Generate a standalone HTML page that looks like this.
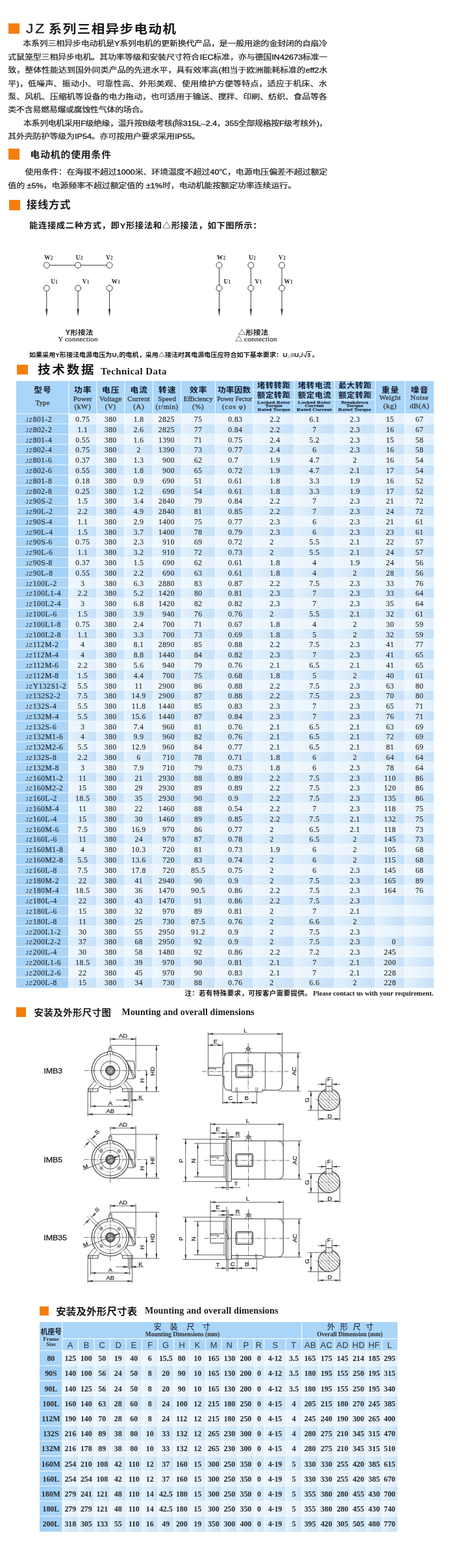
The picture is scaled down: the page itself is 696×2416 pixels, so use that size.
<!DOCTYPE html><html lang="zh"><head><meta charset="utf-8"><title>JZ系列三相异步电动机</title><style>
html,body{margin:0;padding:0;background:#fff}
#p{will-change:transform;position:relative;width:696px;height:2416px;overflow:hidden;background:#fff;font-family:"Liberation Serif",serif;color:#222}
.b{position:absolute}
.t{position:absolute;white-space:nowrap;line-height:1}
.sans{font-family:"Liberation Sans",sans-serif}
.serif{font-family:"Liberation Serif",serif}
#ov{position:absolute;left:0;top:0}

.r{position:absolute;left:0;white-space:nowrap;height:16px;line-height:16px;font-size:11.5px;color:#262626;letter-spacing:.5px;font-family:"Liberation Serif",serif}
.r i{position:absolute;top:0;font-style:normal;text-align:center;-webkit-text-stroke:.15px #262626}
.r .jz{font-weight:normal;-webkit-text-stroke:0;font-family:"Liberation Sans",sans-serif;font-size:8.6px;letter-spacing:.9px;color:#333}
.r i.l{text-align:left;transform-origin:0 50%}
.r i.rt{text-align:right;transform-origin:100% 50%}
.h{font-family:"Liberation Serif",serif;color:#333;text-align:center;-webkit-text-stroke:.25px #2e2e2e}
.c0{left:39.3px;width:80px;letter-spacing:.55px}.c1{left:105.8px;width:43.1px}.c2{left:148.9px;width:42.9px}.c3{left:191.8px;width:43.7px}.c4{left:235.5px;width:33.4px}.c5{left:278.9px;width:52.6px}.c6{left:351.3px;width:50px}.c7{left:415.6px;width:50px}.c8{left:453.2px;width:62.2px}.c9{left:515.4px;width:62.4px}.c10{left:577.8px;width:45.7px}.c11{left:623.5px;width:45px}
.q{position:absolute;left:0;white-space:nowrap;height:23px;line-height:23px;font-size:12px;font-weight:bold;color:#2a2a2a;letter-spacing:-.1px;font-family:"Liberation Serif",serif}
.q i{position:absolute;top:0;font-style:normal;text-align:center}
.q.hd{font-family:"Liberation Sans",sans-serif;font-weight:normal;-webkit-text-stroke:0;font-size:12.2px;color:#333;letter-spacing:.2px;height:18px;line-height:18px}
.q.hd i{transform:scaleX(1.06)}
.d0{left:60.7px;width:35.3px}.d1{left:96px;width:24.5px}.d2{left:120.5px;width:24.5px}.d3{left:145px;width:24.5px}.d4{left:169.5px;width:24.5px}.d5{left:194px;width:24.5px}.d6{left:218.5px;width:24.5px}.d7{left:243px;width:24.5px}.d8{left:267.5px;width:24.5px}.d9{left:292px;width:24.5px}.d10{left:316.5px;width:24.5px}.d11{left:341px;width:24.5px}.d12{left:365.5px;width:25.8px}.d13{left:391.3px;width:15.3px}.d14{left:406.6px;width:33.7px}.d15{left:440.3px;width:24.3px}.d16{left:464.6px;width:25.4px}.d17{left:490px;width:25px}.d18{left:515px;width:24.6px}.d19{left:539.6px;width:24.3px}.d20{left:563.9px;width:24.1px}.d21{left:588px;width:23.8px}</style></head><body><div id="p"><div class="b" style="left:13px;top:36px;width:17px;height:16px;background:#f47e0d;"></div>
<div class="t sans" style="left:40px;top:32.5px;font-size:20px;letter-spacing:2.5px;color:#222;line-height:22px;-webkit-text-stroke:.3px #222;transform:scaleX(1.14);transform-origin:0 0;">JZ</div>
<div class="b" style="left:13px;top:229.2px;width:16.8px;height:16.4px;background:#f47e0d;"></div>
<div class="b" style="left:13.8px;top:307.6px;width:17.2px;height:16.4px;background:#f47e0d;"></div>
<div class="t serif" style="left:60px;top:517.4px;font-size:11.2px;width:120px;text-align:center;letter-spacing:0.18px;color:#222;-webkit-text-stroke:.15px #222;">Y connection</div>
<div class="t serif" style="left:376px;top:517.4px;font-size:11.2px;letter-spacing:0.18px;color:#222;-webkit-text-stroke:.15px #222;">connection</div>
<div class="b" style="left:25.5px;top:562px;width:17.5px;height:15px;background:#f47e0d;"></div>
<div class="t serif" style="left:155px;top:564.7px;font-size:15px;font-weight:bold;letter-spacing:0.44px;color:#1a1a1a;">Technical Data</div>
<div class="b" style="left:25.3px;top:587px;width:643.2px;height:50.3px;background:#a9d5f8;"></div>
<div class="b" style="left:25.3px;top:637.4px;width:80.5px;height:16.09px;background:#a9d5f8;"></div>
<div class="b" style="left:105.8px;top:637.4px;width:562.7px;height:16.09px;background:#e4f1fc;"></div>
<div class="b" style="left:25.3px;top:653.19px;width:80.5px;height:16.09px;background:#a4d2f7;"></div>
<div class="b" style="left:105.8px;top:653.19px;width:562.7px;height:16.09px;background:#c8e2f9;"></div>
<div class="b" style="left:25.3px;top:668.98px;width:80.5px;height:16.09px;background:#a9d5f8;"></div>
<div class="b" style="left:105.8px;top:668.98px;width:562.7px;height:16.09px;background:#e4f1fc;"></div>
<div class="b" style="left:25.3px;top:684.77px;width:80.5px;height:16.09px;background:#a4d2f7;"></div>
<div class="b" style="left:105.8px;top:684.77px;width:562.7px;height:16.09px;background:#c8e2f9;"></div>
<div class="b" style="left:25.3px;top:700.56px;width:80.5px;height:16.09px;background:#a9d5f8;"></div>
<div class="b" style="left:105.8px;top:700.56px;width:562.7px;height:16.09px;background:#e4f1fc;"></div>
<div class="b" style="left:25.3px;top:716.35px;width:80.5px;height:16.09px;background:#a4d2f7;"></div>
<div class="b" style="left:105.8px;top:716.35px;width:562.7px;height:16.09px;background:#c8e2f9;"></div>
<div class="b" style="left:25.3px;top:732.14px;width:80.5px;height:16.09px;background:#a9d5f8;"></div>
<div class="b" style="left:105.8px;top:732.14px;width:562.7px;height:16.09px;background:#e4f1fc;"></div>
<div class="b" style="left:25.3px;top:747.93px;width:80.5px;height:16.09px;background:#a4d2f7;"></div>
<div class="b" style="left:105.8px;top:747.93px;width:562.7px;height:16.09px;background:#c8e2f9;"></div>
<div class="b" style="left:25.3px;top:763.72px;width:80.5px;height:16.09px;background:#a9d5f8;"></div>
<div class="b" style="left:105.8px;top:763.72px;width:562.7px;height:16.09px;background:#e4f1fc;"></div>
<div class="b" style="left:25.3px;top:779.51px;width:80.5px;height:16.09px;background:#a4d2f7;"></div>
<div class="b" style="left:105.8px;top:779.51px;width:562.7px;height:16.09px;background:#c8e2f9;"></div>
<div class="b" style="left:25.3px;top:795.3px;width:80.5px;height:16.09px;background:#a9d5f8;"></div>
<div class="b" style="left:105.8px;top:795.3px;width:562.7px;height:16.09px;background:#e4f1fc;"></div>
<div class="b" style="left:25.3px;top:811.09px;width:80.5px;height:16.09px;background:#a4d2f7;"></div>
<div class="b" style="left:105.8px;top:811.09px;width:562.7px;height:16.09px;background:#c8e2f9;"></div>
<div class="b" style="left:25.3px;top:826.88px;width:80.5px;height:16.09px;background:#a9d5f8;"></div>
<div class="b" style="left:105.8px;top:826.88px;width:562.7px;height:16.09px;background:#e4f1fc;"></div>
<div class="b" style="left:25.3px;top:842.67px;width:80.5px;height:16.09px;background:#a4d2f7;"></div>
<div class="b" style="left:105.8px;top:842.67px;width:562.7px;height:16.09px;background:#c8e2f9;"></div>
<div class="b" style="left:25.3px;top:858.46px;width:80.5px;height:16.09px;background:#a9d5f8;"></div>
<div class="b" style="left:105.8px;top:858.46px;width:562.7px;height:16.09px;background:#e4f1fc;"></div>
<div class="b" style="left:25.3px;top:874.25px;width:80.5px;height:16.09px;background:#a4d2f7;"></div>
<div class="b" style="left:105.8px;top:874.25px;width:562.7px;height:16.09px;background:#c8e2f9;"></div>
<div class="b" style="left:25.3px;top:890.04px;width:80.5px;height:16.09px;background:#a9d5f8;"></div>
<div class="b" style="left:105.8px;top:890.04px;width:562.7px;height:16.09px;background:#e4f1fc;"></div>
<div class="b" style="left:25.3px;top:905.83px;width:80.5px;height:16.09px;background:#a4d2f7;"></div>
<div class="b" style="left:105.8px;top:905.83px;width:562.7px;height:16.09px;background:#c8e2f9;"></div>
<div class="b" style="left:25.3px;top:921.62px;width:80.5px;height:16.09px;background:#a9d5f8;"></div>
<div class="b" style="left:105.8px;top:921.62px;width:562.7px;height:16.09px;background:#e4f1fc;"></div>
<div class="b" style="left:25.3px;top:937.41px;width:80.5px;height:16.09px;background:#a4d2f7;"></div>
<div class="b" style="left:105.8px;top:937.41px;width:562.7px;height:16.09px;background:#c8e2f9;"></div>
<div class="b" style="left:25.3px;top:953.2px;width:80.5px;height:16.09px;background:#a9d5f8;"></div>
<div class="b" style="left:105.8px;top:953.2px;width:562.7px;height:16.09px;background:#e4f1fc;"></div>
<div class="b" style="left:25.3px;top:968.99px;width:80.5px;height:16.09px;background:#a4d2f7;"></div>
<div class="b" style="left:105.8px;top:968.99px;width:562.7px;height:16.09px;background:#c8e2f9;"></div>
<div class="b" style="left:25.3px;top:984.78px;width:80.5px;height:16.09px;background:#a9d5f8;"></div>
<div class="b" style="left:105.8px;top:984.78px;width:562.7px;height:16.09px;background:#e4f1fc;"></div>
<div class="b" style="left:25.3px;top:1000.57px;width:80.5px;height:16.09px;background:#a4d2f7;"></div>
<div class="b" style="left:105.8px;top:1000.57px;width:562.7px;height:16.09px;background:#c8e2f9;"></div>
<div class="b" style="left:25.3px;top:1016.36px;width:80.5px;height:16.09px;background:#a9d5f8;"></div>
<div class="b" style="left:105.8px;top:1016.36px;width:562.7px;height:16.09px;background:#e4f1fc;"></div>
<div class="b" style="left:25.3px;top:1032.15px;width:80.5px;height:16.09px;background:#a4d2f7;"></div>
<div class="b" style="left:105.8px;top:1032.15px;width:562.7px;height:16.09px;background:#c8e2f9;"></div>
<div class="b" style="left:25.3px;top:1047.94px;width:80.5px;height:16.09px;background:#a9d5f8;"></div>
<div class="b" style="left:105.8px;top:1047.94px;width:562.7px;height:16.09px;background:#e4f1fc;"></div>
<div class="b" style="left:25.3px;top:1063.73px;width:80.5px;height:16.09px;background:#a4d2f7;"></div>
<div class="b" style="left:105.8px;top:1063.73px;width:562.7px;height:16.09px;background:#c8e2f9;"></div>
<div class="b" style="left:25.3px;top:1079.52px;width:80.5px;height:16.09px;background:#a9d5f8;"></div>
<div class="b" style="left:105.8px;top:1079.52px;width:562.7px;height:16.09px;background:#e4f1fc;"></div>
<div class="b" style="left:25.3px;top:1095.31px;width:80.5px;height:16.09px;background:#a4d2f7;"></div>
<div class="b" style="left:105.8px;top:1095.31px;width:562.7px;height:16.09px;background:#c8e2f9;"></div>
<div class="b" style="left:25.3px;top:1111.1px;width:80.5px;height:16.09px;background:#a9d5f8;"></div>
<div class="b" style="left:105.8px;top:1111.1px;width:562.7px;height:16.09px;background:#e4f1fc;"></div>
<div class="b" style="left:25.3px;top:1126.89px;width:80.5px;height:16.09px;background:#a4d2f7;"></div>
<div class="b" style="left:105.8px;top:1126.89px;width:562.7px;height:16.09px;background:#c8e2f9;"></div>
<div class="b" style="left:25.3px;top:1142.68px;width:80.5px;height:16.09px;background:#a9d5f8;"></div>
<div class="b" style="left:105.8px;top:1142.68px;width:562.7px;height:16.09px;background:#e4f1fc;"></div>
<div class="b" style="left:25.3px;top:1158.47px;width:80.5px;height:16.09px;background:#a4d2f7;"></div>
<div class="b" style="left:105.8px;top:1158.47px;width:562.7px;height:16.09px;background:#c8e2f9;"></div>
<div class="b" style="left:25.3px;top:1174.26px;width:80.5px;height:16.09px;background:#a9d5f8;"></div>
<div class="b" style="left:105.8px;top:1174.26px;width:562.7px;height:16.09px;background:#e4f1fc;"></div>
<div class="b" style="left:25.3px;top:1190.05px;width:80.5px;height:16.09px;background:#a4d2f7;"></div>
<div class="b" style="left:105.8px;top:1190.05px;width:562.7px;height:16.09px;background:#c8e2f9;"></div>
<div class="b" style="left:25.3px;top:1205.84px;width:80.5px;height:16.09px;background:#a9d5f8;"></div>
<div class="b" style="left:105.8px;top:1205.84px;width:562.7px;height:16.09px;background:#e4f1fc;"></div>
<div class="b" style="left:25.3px;top:1221.63px;width:80.5px;height:16.09px;background:#a4d2f7;"></div>
<div class="b" style="left:105.8px;top:1221.63px;width:562.7px;height:16.09px;background:#c8e2f9;"></div>
<div class="b" style="left:25.3px;top:1237.42px;width:80.5px;height:16.09px;background:#a9d5f8;"></div>
<div class="b" style="left:105.8px;top:1237.42px;width:562.7px;height:16.09px;background:#e4f1fc;"></div>
<div class="b" style="left:25.3px;top:1253.21px;width:80.5px;height:16.09px;background:#a4d2f7;"></div>
<div class="b" style="left:105.8px;top:1253.21px;width:562.7px;height:16.09px;background:#c8e2f9;"></div>
<div class="b" style="left:25.3px;top:1269px;width:80.5px;height:16.09px;background:#a9d5f8;"></div>
<div class="b" style="left:105.8px;top:1269px;width:562.7px;height:16.09px;background:#e4f1fc;"></div>
<div class="b" style="left:25.3px;top:1284.79px;width:80.5px;height:16.09px;background:#a4d2f7;"></div>
<div class="b" style="left:105.8px;top:1284.79px;width:562.7px;height:16.09px;background:#c8e2f9;"></div>
<div class="b" style="left:25.3px;top:1300.58px;width:80.5px;height:16.09px;background:#a9d5f8;"></div>
<div class="b" style="left:105.8px;top:1300.58px;width:562.7px;height:16.09px;background:#e4f1fc;"></div>
<div class="b" style="left:25.3px;top:1316.37px;width:80.5px;height:16.09px;background:#a4d2f7;"></div>
<div class="b" style="left:105.8px;top:1316.37px;width:562.7px;height:16.09px;background:#c8e2f9;"></div>
<div class="b" style="left:25.3px;top:1332.16px;width:80.5px;height:16.09px;background:#a9d5f8;"></div>
<div class="b" style="left:105.8px;top:1332.16px;width:562.7px;height:16.09px;background:#e4f1fc;"></div>
<div class="b" style="left:25.3px;top:1347.95px;width:80.5px;height:16.09px;background:#a4d2f7;"></div>
<div class="b" style="left:105.8px;top:1347.95px;width:562.7px;height:16.09px;background:#c8e2f9;"></div>
<div class="b" style="left:25.3px;top:1363.74px;width:80.5px;height:16.09px;background:#a9d5f8;"></div>
<div class="b" style="left:105.8px;top:1363.74px;width:562.7px;height:16.09px;background:#e4f1fc;"></div>
<div class="b" style="left:25.3px;top:1379.53px;width:80.5px;height:16.09px;background:#a4d2f7;"></div>
<div class="b" style="left:105.8px;top:1379.53px;width:562.7px;height:16.09px;background:#c8e2f9;"></div>
<div class="b" style="left:25.3px;top:1395.32px;width:80.5px;height:16.09px;background:#a9d5f8;"></div>
<div class="b" style="left:105.8px;top:1395.32px;width:562.7px;height:16.09px;background:#e4f1fc;"></div>
<div class="b" style="left:25.3px;top:1411.11px;width:80.5px;height:16.09px;background:#a4d2f7;"></div>
<div class="b" style="left:105.8px;top:1411.11px;width:562.7px;height:16.09px;background:#c8e2f9;"></div>
<div class="b" style="left:25.3px;top:1426.9px;width:80.5px;height:16.09px;background:#a9d5f8;"></div>
<div class="b" style="left:105.8px;top:1426.9px;width:562.7px;height:16.09px;background:#e4f1fc;"></div>
<div class="b" style="left:25.3px;top:1442.69px;width:80.5px;height:16.09px;background:#a4d2f7;"></div>
<div class="b" style="left:105.8px;top:1442.69px;width:562.7px;height:16.09px;background:#c8e2f9;"></div>
<div class="b" style="left:25.3px;top:1458.48px;width:80.5px;height:16.09px;background:#a9d5f8;"></div>
<div class="b" style="left:105.8px;top:1458.48px;width:562.7px;height:16.09px;background:#e4f1fc;"></div>
<div class="b" style="left:25.3px;top:1474.27px;width:80.5px;height:16.09px;background:#a4d2f7;"></div>
<div class="b" style="left:105.8px;top:1474.27px;width:562.7px;height:16.09px;background:#c8e2f9;"></div>
<div class="b" style="left:25.3px;top:1490.06px;width:80.5px;height:16.09px;background:#a9d5f8;"></div>
<div class="b" style="left:105.8px;top:1490.06px;width:562.7px;height:16.09px;background:#e4f1fc;"></div>
<div class="b" style="left:25.3px;top:1505.85px;width:80.5px;height:16.09px;background:#a4d2f7;"></div>
<div class="b" style="left:105.8px;top:1505.85px;width:562.7px;height:16.09px;background:#c8e2f9;"></div>
<div class="b" style="left:105.8px;top:637.4px;width:43.1px;height:884.24px;background:linear-gradient(90deg,rgba(255,255,255,.5),rgba(255,255,255,0) 85%);"></div>
<div class="b" style="left:148.9px;top:637.4px;width:42.9px;height:884.24px;background:linear-gradient(90deg,rgba(255,255,255,.5),rgba(255,255,255,0) 85%);"></div>
<div class="b" style="left:191.8px;top:637.4px;width:43.7px;height:884.24px;background:linear-gradient(90deg,rgba(255,255,255,.5),rgba(255,255,255,0) 85%);"></div>
<div class="b" style="left:235.5px;top:637.4px;width:43.4px;height:884.24px;background:linear-gradient(90deg,rgba(255,255,255,.5),rgba(255,255,255,0) 85%);"></div>
<div class="b" style="left:278.9px;top:637.4px;width:52.6px;height:884.24px;background:linear-gradient(90deg,rgba(255,255,255,.5),rgba(255,255,255,0) 85%);"></div>
<div class="b" style="left:331.5px;top:637.4px;width:58.3px;height:884.24px;background:linear-gradient(90deg,rgba(255,255,255,.5),rgba(255,255,255,0) 85%);"></div>
<div class="b" style="left:389.8px;top:637.4px;width:63.4px;height:884.24px;background:linear-gradient(90deg,rgba(255,255,255,.5),rgba(255,255,255,0) 85%);"></div>
<div class="b" style="left:453.2px;top:637.4px;width:62.2px;height:884.24px;background:linear-gradient(90deg,rgba(255,255,255,.5),rgba(255,255,255,0) 85%);"></div>
<div class="b" style="left:515.4px;top:637.4px;width:62.4px;height:884.24px;background:linear-gradient(90deg,rgba(255,255,255,.5),rgba(255,255,255,0) 85%);"></div>
<div class="b" style="left:577.8px;top:637.4px;width:45.7px;height:884.24px;background:linear-gradient(90deg,rgba(255,255,255,.5),rgba(255,255,255,0) 85%);"></div>
<div class="b" style="left:623.5px;top:637.4px;width:45px;height:884.24px;background:linear-gradient(90deg,rgba(255,255,255,.5),rgba(255,255,255,0) 85%);"></div>
<div class="r" style="top:638px"><i class="c0 l"><b class="jz">JZ</b>801-2</i><i class="c1">0.75</i><i class="c2">380</i><i class="c3">1.8</i><i class="c4 rt">2825</i><i class="c5">75</i><i class="c6 l">0.83</i><i class="c7 l">2.2</i><i class="c8">6.1</i><i class="c9">2.3</i><i class="c10">15</i><i class="c11">67</i></div>
<div class="r" style="top:653.79px"><i class="c0 l"><b class="jz">JZ</b>802-2</i><i class="c1">1.1</i><i class="c2">380</i><i class="c3">2.6</i><i class="c4 rt">2825</i><i class="c5">77</i><i class="c6 l">0.84</i><i class="c7 l">2.2</i><i class="c8">7</i><i class="c9">2.3</i><i class="c10">16</i><i class="c11">67</i></div>
<div class="r" style="top:669.58px"><i class="c0 l"><b class="jz">JZ</b>801-4</i><i class="c1">0.55</i><i class="c2">380</i><i class="c3">1.6</i><i class="c4 rt">1390</i><i class="c5">71</i><i class="c6 l">0.75</i><i class="c7 l">2.4</i><i class="c8">5.2</i><i class="c9">2.3</i><i class="c10">15</i><i class="c11">58</i></div>
<div class="r" style="top:685.37px"><i class="c0 l"><b class="jz">JZ</b>802-4</i><i class="c1">0.75</i><i class="c2">380</i><i class="c3">2</i><i class="c4 rt">1390</i><i class="c5">73</i><i class="c6 l">0.77</i><i class="c7 l">2.4</i><i class="c8">6</i><i class="c9">2.3</i><i class="c10">16</i><i class="c11">58</i></div>
<div class="r" style="top:701.16px"><i class="c0 l"><b class="jz">JZ</b>801-6</i><i class="c1">0.37</i><i class="c2">380</i><i class="c3">1.3</i><i class="c4 rt">900</i><i class="c5">62</i><i class="c6 l">0.7</i><i class="c7 l">1.9</i><i class="c8">4.7</i><i class="c9">2</i><i class="c10">16</i><i class="c11">54</i></div>
<div class="r" style="top:716.95px"><i class="c0 l"><b class="jz">JZ</b>802-6</i><i class="c1">0.55</i><i class="c2">380</i><i class="c3">1.8</i><i class="c4 rt">900</i><i class="c5">65</i><i class="c6 l">0.72</i><i class="c7 l">1.9</i><i class="c8">4.7</i><i class="c9">2.1</i><i class="c10">17</i><i class="c11">54</i></div>
<div class="r" style="top:732.74px"><i class="c0 l"><b class="jz">JZ</b>801-8</i><i class="c1">0.18</i><i class="c2">380</i><i class="c3">0.9</i><i class="c4 rt">690</i><i class="c5">51</i><i class="c6 l">0.61</i><i class="c7 l">1.8</i><i class="c8">3.3</i><i class="c9">1.9</i><i class="c10">16</i><i class="c11">52</i></div>
<div class="r" style="top:748.53px"><i class="c0 l"><b class="jz">JZ</b>802-8</i><i class="c1">0.25</i><i class="c2">380</i><i class="c3">1.2</i><i class="c4 rt">690</i><i class="c5">54</i><i class="c6 l">0.61</i><i class="c7 l">1.8</i><i class="c8">3.3</i><i class="c9">1.9</i><i class="c10">17</i><i class="c11">52</i></div>
<div class="r" style="top:764.32px"><i class="c0 l"><b class="jz">JZ</b>90S-2</i><i class="c1">1.5</i><i class="c2">380</i><i class="c3">3.4</i><i class="c4 rt">2840</i><i class="c5">79</i><i class="c6 l">0.84</i><i class="c7 l">2.2</i><i class="c8">7</i><i class="c9">2.3</i><i class="c10">21</i><i class="c11">72</i></div>
<div class="r" style="top:780.11px"><i class="c0 l"><b class="jz">JZ</b>90L-2</i><i class="c1">2.2</i><i class="c2">380</i><i class="c3">4.9</i><i class="c4 rt">2840</i><i class="c5">81</i><i class="c6 l">0.85</i><i class="c7 l">2.2</i><i class="c8">7</i><i class="c9">2.3</i><i class="c10">24</i><i class="c11">72</i></div>
<div class="r" style="top:795.9px"><i class="c0 l"><b class="jz">JZ</b>90S-4</i><i class="c1">1.1</i><i class="c2">380</i><i class="c3">2.9</i><i class="c4 rt">1400</i><i class="c5">75</i><i class="c6 l">0.77</i><i class="c7 l">2.3</i><i class="c8">6</i><i class="c9">2.3</i><i class="c10">21</i><i class="c11">61</i></div>
<div class="r" style="top:811.69px"><i class="c0 l"><b class="jz">JZ</b>90L-4</i><i class="c1">1.5</i><i class="c2">380</i><i class="c3">3.7</i><i class="c4 rt">1400</i><i class="c5">78</i><i class="c6 l">0.79</i><i class="c7 l">2.3</i><i class="c8">6</i><i class="c9">2.3</i><i class="c10">23</i><i class="c11">61</i></div>
<div class="r" style="top:827.48px"><i class="c0 l"><b class="jz">JZ</b>90S-6</i><i class="c1">0.75</i><i class="c2">380</i><i class="c3">2.3</i><i class="c4 rt">910</i><i class="c5">69</i><i class="c6 l">0.72</i><i class="c7 l">2</i><i class="c8">5.5</i><i class="c9">2.1</i><i class="c10">22</i><i class="c11">57</i></div>
<div class="r" style="top:843.27px"><i class="c0 l"><b class="jz">JZ</b>90L-6</i><i class="c1">1.1</i><i class="c2">380</i><i class="c3">3.2</i><i class="c4 rt">910</i><i class="c5">72</i><i class="c6 l">0.73</i><i class="c7 l">2</i><i class="c8">5.5</i><i class="c9">2.1</i><i class="c10">24</i><i class="c11">57</i></div>
<div class="r" style="top:859.06px"><i class="c0 l"><b class="jz">JZ</b>90S-8</i><i class="c1">0.37</i><i class="c2">380</i><i class="c3">1.5</i><i class="c4 rt">690</i><i class="c5">62</i><i class="c6 l">0.61</i><i class="c7 l">1.8</i><i class="c8">4</i><i class="c9">1.9</i><i class="c10">24</i><i class="c11">56</i></div>
<div class="r" style="top:874.85px"><i class="c0 l"><b class="jz">JZ</b>90L-8</i><i class="c1">0.55</i><i class="c2">380</i><i class="c3">2.2</i><i class="c4 rt">690</i><i class="c5">63</i><i class="c6 l">0.61</i><i class="c7 l">1.8</i><i class="c8">4</i><i class="c9">2</i><i class="c10">28</i><i class="c11">56</i></div>
<div class="r" style="top:890.64px"><i class="c0 l"><b class="jz">JZ</b>100L-2</i><i class="c1">3</i><i class="c2">380</i><i class="c3">6.3</i><i class="c4 rt">2880</i><i class="c5">83</i><i class="c6 l">0.87</i><i class="c7 l">2.2</i><i class="c8">7.5</i><i class="c9">2.3</i><i class="c10">33</i><i class="c11">76</i></div>
<div class="r" style="top:906.43px"><i class="c0 l"><b class="jz">JZ</b>100L1-4</i><i class="c1">2.2</i><i class="c2">380</i><i class="c3">5.2</i><i class="c4 rt">1420</i><i class="c5">80</i><i class="c6 l">0.81</i><i class="c7 l">2.3</i><i class="c8">7</i><i class="c9">2.3</i><i class="c10">33</i><i class="c11">64</i></div>
<div class="r" style="top:922.22px"><i class="c0 l"><b class="jz">JZ</b>100L2-4</i><i class="c1">3</i><i class="c2">380</i><i class="c3">6.8</i><i class="c4 rt">1420</i><i class="c5">82</i><i class="c6 l">0.82</i><i class="c7 l">2.3</i><i class="c8">7</i><i class="c9">2.3</i><i class="c10">35</i><i class="c11">64</i></div>
<div class="r" style="top:938.01px"><i class="c0 l"><b class="jz">JZ</b>100L-6</i><i class="c1">1.5</i><i class="c2">380</i><i class="c3">3.9</i><i class="c4 rt">940</i><i class="c5">76</i><i class="c6 l">0.76</i><i class="c7 l">2</i><i class="c8">5.5</i><i class="c9">2.1</i><i class="c10">32</i><i class="c11">61</i></div>
<div class="r" style="top:953.8px"><i class="c0 l"><b class="jz">JZ</b>100L1-8</i><i class="c1">0.75</i><i class="c2">380</i><i class="c3">2.4</i><i class="c4 rt">700</i><i class="c5">71</i><i class="c6 l">0.67</i><i class="c7 l">1.8</i><i class="c8">4</i><i class="c9">2</i><i class="c10">30</i><i class="c11">59</i></div>
<div class="r" style="top:969.59px"><i class="c0 l"><b class="jz">JZ</b>100L2-8</i><i class="c1">1.1</i><i class="c2">380</i><i class="c3">3.3</i><i class="c4 rt">700</i><i class="c5">73</i><i class="c6 l">0.69</i><i class="c7 l">1.8</i><i class="c8">5</i><i class="c9">2</i><i class="c10">32</i><i class="c11">59</i></div>
<div class="r" style="top:985.38px"><i class="c0 l"><b class="jz">JZ</b>112M-2</i><i class="c1">4</i><i class="c2">380</i><i class="c3">8.1</i><i class="c4 rt">2890</i><i class="c5">85</i><i class="c6 l">0.88</i><i class="c7 l">2.2</i><i class="c8">7.5</i><i class="c9">2.3</i><i class="c10">41</i><i class="c11">77</i></div>
<div class="r" style="top:1001.17px"><i class="c0 l"><b class="jz">JZ</b>112M-4</i><i class="c1">4</i><i class="c2">380</i><i class="c3">8.8</i><i class="c4 rt">1440</i><i class="c5">84</i><i class="c6 l">0.82</i><i class="c7 l">2.3</i><i class="c8">7</i><i class="c9">2.3</i><i class="c10">41</i><i class="c11">65</i></div>
<div class="r" style="top:1016.96px"><i class="c0 l"><b class="jz">JZ</b>112M-6</i><i class="c1">2.2</i><i class="c2">380</i><i class="c3">5.6</i><i class="c4 rt">940</i><i class="c5">79</i><i class="c6 l">0.76</i><i class="c7 l">2.1</i><i class="c8">6.5</i><i class="c9">2.1</i><i class="c10">41</i><i class="c11">65</i></div>
<div class="r" style="top:1032.75px"><i class="c0 l"><b class="jz">JZ</b>112M-8</i><i class="c1">1.5</i><i class="c2">380</i><i class="c3">4.4</i><i class="c4 rt">700</i><i class="c5">75</i><i class="c6 l">0.68</i><i class="c7 l">1.8</i><i class="c8">5</i><i class="c9">2</i><i class="c10">40</i><i class="c11">61</i></div>
<div class="r" style="top:1048.54px"><i class="c0 l"><b class="jz">JZ</b>Y132S1-2</i><i class="c1">5.5</i><i class="c2">380</i><i class="c3">11</i><i class="c4 rt">2900</i><i class="c5">86</i><i class="c6 l">0.88</i><i class="c7 l">2.2</i><i class="c8">7.5</i><i class="c9">2.3</i><i class="c10">63</i><i class="c11">80</i></div>
<div class="r" style="top:1064.33px"><i class="c0 l"><b class="jz">JZ</b>132S2-2</i><i class="c1">7.5</i><i class="c2">380</i><i class="c3">14.9</i><i class="c4 rt">2900</i><i class="c5">87</i><i class="c6 l">0.88</i><i class="c7 l">2.2</i><i class="c8">7.5</i><i class="c9">2.3</i><i class="c10">70</i><i class="c11">80</i></div>
<div class="r" style="top:1080.12px"><i class="c0 l"><b class="jz">JZ</b>132S-4</i><i class="c1">5.5</i><i class="c2">380</i><i class="c3">11.8</i><i class="c4 rt">1440</i><i class="c5">85</i><i class="c6 l">0.83</i><i class="c7 l">2.3</i><i class="c8">7</i><i class="c9">2.3</i><i class="c10">65</i><i class="c11">71</i></div>
<div class="r" style="top:1095.91px"><i class="c0 l"><b class="jz">JZ</b>132M-4</i><i class="c1">5.5</i><i class="c2">380</i><i class="c3">15.6</i><i class="c4 rt">1440</i><i class="c5">87</i><i class="c6 l">0.84</i><i class="c7 l">2.3</i><i class="c8">7</i><i class="c9">2.3</i><i class="c10">76</i><i class="c11">71</i></div>
<div class="r" style="top:1111.7px"><i class="c0 l"><b class="jz">JZ</b>132S-6</i><i class="c1">3</i><i class="c2">380</i><i class="c3">7.4</i><i class="c4 rt">960</i><i class="c5">81</i><i class="c6 l">0.76</i><i class="c7 l">2.1</i><i class="c8">6.5</i><i class="c9">2.1</i><i class="c10">63</i><i class="c11">69</i></div>
<div class="r" style="top:1127.49px"><i class="c0 l"><b class="jz">JZ</b>132M1-6</i><i class="c1">4</i><i class="c2">380</i><i class="c3">9.9</i><i class="c4 rt">960</i><i class="c5">82</i><i class="c6 l">0.76</i><i class="c7 l">2.1</i><i class="c8">6.5</i><i class="c9">2.1</i><i class="c10">72</i><i class="c11">69</i></div>
<div class="r" style="top:1143.28px"><i class="c0 l"><b class="jz">JZ</b>132M2-6</i><i class="c1">5.5</i><i class="c2">380</i><i class="c3">12.9</i><i class="c4 rt">960</i><i class="c5">84</i><i class="c6 l">0.77</i><i class="c7 l">2.1</i><i class="c8">6.5</i><i class="c9">2.1</i><i class="c10">81</i><i class="c11">69</i></div>
<div class="r" style="top:1159.07px"><i class="c0 l"><b class="jz">JZ</b>132S-8</i><i class="c1">2.2</i><i class="c2">380</i><i class="c3">6</i><i class="c4 rt">710</i><i class="c5">78</i><i class="c6 l">0.71</i><i class="c7 l">1.8</i><i class="c8">6</i><i class="c9">2</i><i class="c10">64</i><i class="c11">64</i></div>
<div class="r" style="top:1174.86px"><i class="c0 l"><b class="jz">JZ</b>132M-8</i><i class="c1">3</i><i class="c2">380</i><i class="c3">7.9</i><i class="c4 rt">710</i><i class="c5">79</i><i class="c6 l">0.73</i><i class="c7 l">1.8</i><i class="c8">6</i><i class="c9">2.3</i><i class="c10">78</i><i class="c11">64</i></div>
<div class="r" style="top:1190.65px"><i class="c0 l"><b class="jz">JZ</b>160M1-2</i><i class="c1">11</i><i class="c2">380</i><i class="c3">21</i><i class="c4 rt">2930</i><i class="c5">88</i><i class="c6 l">0.89</i><i class="c7 l">2.2</i><i class="c8">7.5</i><i class="c9">2.3</i><i class="c10">110</i><i class="c11">86</i></div>
<div class="r" style="top:1206.44px"><i class="c0 l"><b class="jz">JZ</b>160M2-2</i><i class="c1">15</i><i class="c2">380</i><i class="c3">29</i><i class="c4 rt">2930</i><i class="c5">89</i><i class="c6 l">0.89</i><i class="c7 l">2.2</i><i class="c8">7.5</i><i class="c9">2.3</i><i class="c10">120</i><i class="c11">86</i></div>
<div class="r" style="top:1222.23px"><i class="c0 l"><b class="jz">JZ</b>160L-2</i><i class="c1">18.5</i><i class="c2">380</i><i class="c3">35</i><i class="c4 rt">2930</i><i class="c5">90</i><i class="c6 l">0.9</i><i class="c7 l">2.2</i><i class="c8">7.5</i><i class="c9">2.3</i><i class="c10">135</i><i class="c11">86</i></div>
<div class="r" style="top:1238.02px"><i class="c0 l"><b class="jz">JZ</b>160M-4</i><i class="c1">11</i><i class="c2">380</i><i class="c3">22</i><i class="c4 rt">1460</i><i class="c5">88</i><i class="c6 l">0.54</i><i class="c7 l">2.2</i><i class="c8">7</i><i class="c9">2.3</i><i class="c10">118</i><i class="c11">75</i></div>
<div class="r" style="top:1253.81px"><i class="c0 l"><b class="jz">JZ</b>160L-4</i><i class="c1">15</i><i class="c2">380</i><i class="c3">30</i><i class="c4 rt">1460</i><i class="c5">89</i><i class="c6 l">0.85</i><i class="c7 l">2.2</i><i class="c8">7.5</i><i class="c9">2.1</i><i class="c10">132</i><i class="c11">75</i></div>
<div class="r" style="top:1269.6px"><i class="c0 l"><b class="jz">JZ</b>160M-6</i><i class="c1">7.5</i><i class="c2">380</i><i class="c3">16.9</i><i class="c4 rt">970</i><i class="c5">86</i><i class="c6 l">0.77</i><i class="c7 l">2</i><i class="c8">6.5</i><i class="c9">2.1</i><i class="c10">118</i><i class="c11">73</i></div>
<div class="r" style="top:1285.39px"><i class="c0 l"><b class="jz">JZ</b>160L-6</i><i class="c1">11</i><i class="c2">380</i><i class="c3">24</i><i class="c4 rt">970</i><i class="c5">87</i><i class="c6 l">0.78</i><i class="c7 l">2</i><i class="c8">6.5</i><i class="c9">2</i><i class="c10">145</i><i class="c11">73</i></div>
<div class="r" style="top:1301.18px"><i class="c0 l"><b class="jz">JZ</b>160M1-8</i><i class="c1">4</i><i class="c2">380</i><i class="c3">10.3</i><i class="c4 rt">720</i><i class="c5">81</i><i class="c6 l">0.73</i><i class="c7 l">1.9</i><i class="c8">6</i><i class="c9">2</i><i class="c10">105</i><i class="c11">68</i></div>
<div class="r" style="top:1316.97px"><i class="c0 l"><b class="jz">JZ</b>160M2-8</i><i class="c1">5.5</i><i class="c2">380</i><i class="c3">13.6</i><i class="c4 rt">720</i><i class="c5">83</i><i class="c6 l">0.74</i><i class="c7 l">2</i><i class="c8">6</i><i class="c9">2</i><i class="c10">115</i><i class="c11">68</i></div>
<div class="r" style="top:1332.76px"><i class="c0 l"><b class="jz">JZ</b>160L-8</i><i class="c1">7.5</i><i class="c2">380</i><i class="c3">17.8</i><i class="c4 rt">720</i><i class="c5">85.5</i><i class="c6 l">0.75</i><i class="c7 l">2</i><i class="c8">6</i><i class="c9">2.3</i><i class="c10">145</i><i class="c11">68</i></div>
<div class="r" style="top:1348.55px"><i class="c0 l"><b class="jz">JZ</b>180M-2</i><i class="c1">22</i><i class="c2">380</i><i class="c3">41</i><i class="c4 rt">2940</i><i class="c5">90</i><i class="c6 l">0.9</i><i class="c7 l">2</i><i class="c8">7.5</i><i class="c9">2.3</i><i class="c10">165</i><i class="c11">89</i></div>
<div class="r" style="top:1364.34px"><i class="c0 l"><b class="jz">JZ</b>180M-4</i><i class="c1">18.5</i><i class="c2">380</i><i class="c3">36</i><i class="c4 rt">1470</i><i class="c5">90.5</i><i class="c6 l">0.86</i><i class="c7 l">2.2</i><i class="c8">7.5</i><i class="c9">2.3</i><i class="c10">164</i><i class="c11">76</i></div>
<div class="r" style="top:1380.13px"><i class="c0 l"><b class="jz">JZ</b>180L-4</i><i class="c1">22</i><i class="c2">380</i><i class="c3">43</i><i class="c4 rt">1470</i><i class="c5">91</i><i class="c6 l">0.86</i><i class="c7 l">2.2</i><i class="c8">7.5</i><i class="c9">2.3</i></div>
<div class="r" style="top:1395.92px"><i class="c0 l"><b class="jz">JZ</b>180L-6</i><i class="c1">15</i><i class="c2">380</i><i class="c3">32</i><i class="c4 rt">970</i><i class="c5">89</i><i class="c6 l">0.81</i><i class="c7 l">2</i><i class="c8">7</i><i class="c9">2.1</i></div>
<div class="r" style="top:1411.71px"><i class="c0 l"><b class="jz">JZ</b>180L-8</i><i class="c1">11</i><i class="c2">380</i><i class="c3">25</i><i class="c4 rt">730</i><i class="c5">87.5</i><i class="c6 l">0.76</i><i class="c7 l">2</i><i class="c8">6.6</i><i class="c9">2</i></div>
<div class="r" style="top:1427.5px"><i class="c0 l"><b class="jz">JZ</b>200L1-2</i><i class="c1">30</i><i class="c2">380</i><i class="c3">55</i><i class="c4 rt">2950</i><i class="c5">91.2</i><i class="c6 l">0.9</i><i class="c7 l">2</i><i class="c8">7.5</i><i class="c9">2.3</i></div>
<div class="r" style="top:1443.29px"><i class="c0 l"><b class="jz">JZ</b>200L2-2</i><i class="c1">37</i><i class="c2">380</i><i class="c3">68</i><i class="c4 rt">2950</i><i class="c5">92</i><i class="c6 l">0.9</i><i class="c7 l">2</i><i class="c8">7.5</i><i class="c9">2.3</i><i class="c10"><span style="padding-left:12px">0</span></i></div>
<div class="r" style="top:1459.08px"><i class="c0 l"><b class="jz">JZ</b>200L-4</i><i class="c1">30</i><i class="c2">380</i><i class="c3">58</i><i class="c4 rt">1480</i><i class="c5">92</i><i class="c6 l">0.86</i><i class="c7 l">2.2</i><i class="c8">7.2</i><i class="c9">2.3</i><i class="c10">245</i></div>
<div class="r" style="top:1474.87px"><i class="c0 l"><b class="jz">JZ</b>200L1-6</i><i class="c1">18.5</i><i class="c2">380</i><i class="c3">39</i><i class="c4 rt">970</i><i class="c5">90</i><i class="c6 l">0.81</i><i class="c7 l">2.1</i><i class="c8">7</i><i class="c9">2.1</i><i class="c10">200</i></div>
<div class="r" style="top:1490.66px"><i class="c0 l"><b class="jz">JZ</b>200L2-6</i><i class="c1">22</i><i class="c2">380</i><i class="c3">45</i><i class="c4 rt">970</i><i class="c5">90</i><i class="c6 l">0.83</i><i class="c7 l">2.1</i><i class="c8">7</i><i class="c9">2.1</i><i class="c10">228</i></div>
<div class="r" style="top:1506.45px"><i class="c0 l"><b class="jz">JZ</b>200L-8</i><i class="c1">15</i><i class="c2">380</i><i class="c3">34</i><i class="c4 rt">730</i><i class="c5">88</i><i class="c6 l">0.76</i><i class="c7 l">2</i><i class="c8">6.6</i><i class="c9">2</i><i class="c10">228</i></div>
<div class="t h" style="left:5.3px;top:615.25px;font-size:10.8px;width:120.5px;letter-spacing:0.2px;color:#2e2e2e;">Type</div>
<div class="t h" style="left:85.8px;top:608.93px;font-size:11.2px;width:83.1px;letter-spacing:0.1px;color:#2e2e2e;">Power</div>
<div class="t h" style="left:85.8px;top:621.23px;font-size:11.2px;width:83.1px;letter-spacing:0.5px;color:#2e2e2e;">(kW)</div>
<div class="t h" style="left:128.9px;top:608.93px;font-size:11.2px;width:82.9px;letter-spacing:0.1px;color:#2e2e2e;">Voltage</div>
<div class="t h" style="left:128.9px;top:621.23px;font-size:11.2px;width:82.9px;letter-spacing:0.5px;color:#2e2e2e;">(V)</div>
<div class="t h" style="left:171.8px;top:608.93px;font-size:11.2px;width:83.7px;letter-spacing:0.1px;color:#2e2e2e;">Current</div>
<div class="t h" style="left:171.8px;top:621.23px;font-size:11.2px;width:83.7px;letter-spacing:0.5px;color:#2e2e2e;">(A)</div>
<div class="t h" style="left:215.5px;top:608.93px;font-size:11.2px;width:83.4px;letter-spacing:0.1px;color:#2e2e2e;">Speed</div>
<div class="t h" style="left:215.5px;top:621.23px;font-size:11.2px;width:83.4px;letter-spacing:0.5px;color:#2e2e2e;">(r/min)</div>
<div class="t h" style="left:258.9px;top:608.93px;font-size:11.2px;width:92.6px;letter-spacing:-0.15px;color:#2e2e2e;">Efficiency</div>
<div class="t h" style="left:258.9px;top:621.23px;font-size:11.2px;width:92.6px;letter-spacing:0.5px;color:#2e2e2e;">(%)</div>
<div class="t h" style="left:311.5px;top:608.93px;font-size:11.2px;width:98.3px;letter-spacing:0px;color:#2e2e2e;transform:scaleX(0.9);">Power Fector</div>
<div class="t h" style="left:311.5px;top:621.23px;font-size:11.2px;width:98.3px;letter-spacing:0.8px;color:#2e2e2e;">(cos φ)</div>
<div class="t h" style="left:369.8px;top:616.62px;font-size:6.4px;width:103.4px;letter-spacing:0.1px;color:#2b3550;transform:scaleX(1.3);font-weight:bold;">Locked Rotor</div>
<div class="t h" style="left:369.8px;top:622.42px;font-size:6.4px;width:103.4px;letter-spacing:0.1px;color:#2b3550;transform:scaleX(1.3);font-weight:bold;">Torque</div>
<div class="t h" style="left:369.8px;top:628.32px;font-size:6.4px;width:103.4px;letter-spacing:0.1px;color:#2b3550;transform:scaleX(1.3);font-weight:bold;">Rated Torque</div>
<div class="t h" style="left:433.2px;top:616.62px;font-size:6.4px;width:102.2px;letter-spacing:0.1px;color:#2b3550;transform:scaleX(1.3);font-weight:bold;">Locked Rotor</div>
<div class="t h" style="left:433.2px;top:622.42px;font-size:6.4px;width:102.2px;letter-spacing:0.1px;color:#2b3550;transform:scaleX(1.3);font-weight:bold;">Current</div>
<div class="t h" style="left:433.2px;top:628.32px;font-size:6.4px;width:102.2px;letter-spacing:0.1px;color:#2b3550;transform:scaleX(1.3);font-weight:bold;">Rated Current</div>
<div class="t h" style="left:495.4px;top:616.62px;font-size:6.4px;width:102.4px;letter-spacing:0.1px;color:#2b3550;transform:scaleX(1.3);font-weight:bold;">Breakdown</div>
<div class="t h" style="left:495.4px;top:622.42px;font-size:6.4px;width:102.4px;letter-spacing:0.1px;color:#2b3550;transform:scaleX(1.3);font-weight:bold;">Torque</div>
<div class="t h" style="left:495.4px;top:628.32px;font-size:6.4px;width:102.4px;letter-spacing:0.1px;color:#2b3550;transform:scaleX(1.3);font-weight:bold;">Rated Torque</div>
<div class="t h" style="left:557.8px;top:607.33px;font-size:11.2px;width:85.7px;letter-spacing:0.2px;color:#2e2e2e;">Weight</div>
<div class="t h" style="left:557.8px;top:619.73px;font-size:11.2px;width:85.7px;letter-spacing:0.5px;color:#2e2e2e;">(kg)</div>
<div class="t h" style="left:603.5px;top:607.33px;font-size:11.2px;width:85px;letter-spacing:0.4px;color:#2e2e2e;">Noise</div>
<div class="t h" style="left:603.5px;top:619.73px;font-size:11.2px;width:85px;letter-spacing:0.3px;color:#2e2e2e;">dB(A)</div>
<div class="t serif" style="left:482px;top:1525px;font-size:11.4px;font-weight:bold;transform:scaleX(.936);transform-origin:0 0;color:#1a1a1a;">Please contact us with your requirement.</div>
<div class="b" style="left:24.5px;top:1552px;width:15.3px;height:15px;background:#f47e0d;"></div>
<div class="t serif" style="left:187.6px;top:1552.9px;font-size:14px;font-weight:bold;letter-spacing:0.12px;color:#1a1a1a;">Mounting and overall dimensions</div>
<div class="b" style="left:61.3px;top:2012.8px;width:14px;height:14px;background:#f47e0d;"></div>
<div class="t serif" style="left:223px;top:2013.4px;font-size:14px;font-weight:bold;letter-spacing:0.17px;color:#1a1a1a;">Mounting and overall dimensions</div>
<div class="b" style="left:60.7px;top:2037px;width:551.1px;height:44px;background:#a9d5f8;"></div>
<div class="b" style="left:60.7px;top:2081px;width:35.3px;height:23.5px;background:#a9d5f8;"></div>
<div class="b" style="left:96px;top:2081px;width:515.8px;height:23.5px;background:#e4f1fc;"></div>
<div class="b" style="left:60.7px;top:2104.2px;width:35.3px;height:23.5px;background:#a3d1f7;"></div>
<div class="b" style="left:96px;top:2104.2px;width:515.8px;height:23.5px;background:#cbe4f9;"></div>
<div class="b" style="left:60.7px;top:2127.4px;width:35.3px;height:23.5px;background:#a9d5f8;"></div>
<div class="b" style="left:96px;top:2127.4px;width:515.8px;height:23.5px;background:#e4f1fc;"></div>
<div class="b" style="left:60.7px;top:2150.6px;width:35.3px;height:23.5px;background:#a3d1f7;"></div>
<div class="b" style="left:96px;top:2150.6px;width:515.8px;height:23.5px;background:#cbe4f9;"></div>
<div class="b" style="left:60.7px;top:2173.8px;width:35.3px;height:23.5px;background:#a9d5f8;"></div>
<div class="b" style="left:96px;top:2173.8px;width:515.8px;height:23.5px;background:#e4f1fc;"></div>
<div class="b" style="left:60.7px;top:2197px;width:35.3px;height:23.5px;background:#a3d1f7;"></div>
<div class="b" style="left:96px;top:2197px;width:515.8px;height:23.5px;background:#cbe4f9;"></div>
<div class="b" style="left:60.7px;top:2220.2px;width:35.3px;height:23.5px;background:#a9d5f8;"></div>
<div class="b" style="left:96px;top:2220.2px;width:515.8px;height:23.5px;background:#e4f1fc;"></div>
<div class="b" style="left:60.7px;top:2243.4px;width:35.3px;height:23.5px;background:#a3d1f7;"></div>
<div class="b" style="left:96px;top:2243.4px;width:515.8px;height:23.5px;background:#cbe4f9;"></div>
<div class="b" style="left:60.7px;top:2266.6px;width:35.3px;height:23.5px;background:#a9d5f8;"></div>
<div class="b" style="left:96px;top:2266.6px;width:515.8px;height:23.5px;background:#e4f1fc;"></div>
<div class="b" style="left:60.7px;top:2289.8px;width:35.3px;height:23.5px;background:#a3d1f7;"></div>
<div class="b" style="left:96px;top:2289.8px;width:515.8px;height:23.5px;background:#cbe4f9;"></div>
<div class="b" style="left:60.7px;top:2313px;width:35.3px;height:23.5px;background:#a9d5f8;"></div>
<div class="b" style="left:96px;top:2313px;width:515.8px;height:23.5px;background:#e4f1fc;"></div>
<div class="b" style="left:60.7px;top:2336.2px;width:35.3px;height:23.5px;background:#a3d1f7;"></div>
<div class="b" style="left:96px;top:2336.2px;width:515.8px;height:23.5px;background:#cbe4f9;"></div>
<div class="b" style="left:96px;top:2081px;width:24.5px;height:278.4px;background:linear-gradient(90deg,rgba(255,255,255,.5),rgba(255,255,255,0) 85%);"></div>
<div class="b" style="left:120.5px;top:2081px;width:24.5px;height:278.4px;background:linear-gradient(90deg,rgba(255,255,255,.5),rgba(255,255,255,0) 85%);"></div>
<div class="b" style="left:145px;top:2081px;width:24.5px;height:278.4px;background:linear-gradient(90deg,rgba(255,255,255,.5),rgba(255,255,255,0) 85%);"></div>
<div class="b" style="left:169.5px;top:2081px;width:24.5px;height:278.4px;background:linear-gradient(90deg,rgba(255,255,255,.5),rgba(255,255,255,0) 85%);"></div>
<div class="b" style="left:194px;top:2081px;width:24.5px;height:278.4px;background:linear-gradient(90deg,rgba(255,255,255,.5),rgba(255,255,255,0) 85%);"></div>
<div class="b" style="left:218.5px;top:2081px;width:24.5px;height:278.4px;background:linear-gradient(90deg,rgba(255,255,255,.5),rgba(255,255,255,0) 85%);"></div>
<div class="b" style="left:243px;top:2081px;width:24.5px;height:278.4px;background:linear-gradient(90deg,rgba(255,255,255,.5),rgba(255,255,255,0) 85%);"></div>
<div class="b" style="left:267.5px;top:2081px;width:24.5px;height:278.4px;background:linear-gradient(90deg,rgba(255,255,255,.5),rgba(255,255,255,0) 85%);"></div>
<div class="b" style="left:292px;top:2081px;width:24.5px;height:278.4px;background:linear-gradient(90deg,rgba(255,255,255,.5),rgba(255,255,255,0) 85%);"></div>
<div class="b" style="left:316.5px;top:2081px;width:24.5px;height:278.4px;background:linear-gradient(90deg,rgba(255,255,255,.5),rgba(255,255,255,0) 85%);"></div>
<div class="b" style="left:341px;top:2081px;width:24.5px;height:278.4px;background:linear-gradient(90deg,rgba(255,255,255,.5),rgba(255,255,255,0) 85%);"></div>
<div class="b" style="left:365.5px;top:2081px;width:25.8px;height:278.4px;background:linear-gradient(90deg,rgba(255,255,255,.5),rgba(255,255,255,0) 85%);"></div>
<div class="b" style="left:391.3px;top:2081px;width:15.3px;height:278.4px;background:linear-gradient(90deg,rgba(255,255,255,.5),rgba(255,255,255,0) 85%);"></div>
<div class="b" style="left:406.6px;top:2081px;width:33.7px;height:278.4px;background:linear-gradient(90deg,rgba(255,255,255,.5),rgba(255,255,255,0) 85%);"></div>
<div class="b" style="left:440.3px;top:2081px;width:24.3px;height:278.4px;background:linear-gradient(90deg,rgba(255,255,255,.5),rgba(255,255,255,0) 85%);"></div>
<div class="b" style="left:464.6px;top:2081px;width:25.4px;height:278.4px;background:linear-gradient(90deg,rgba(255,255,255,.5),rgba(255,255,255,0) 85%);"></div>
<div class="b" style="left:490px;top:2081px;width:25px;height:278.4px;background:linear-gradient(90deg,rgba(255,255,255,.5),rgba(255,255,255,0) 85%);"></div>
<div class="b" style="left:515px;top:2081px;width:24.6px;height:278.4px;background:linear-gradient(90deg,rgba(255,255,255,.5),rgba(255,255,255,0) 85%);"></div>
<div class="b" style="left:539.6px;top:2081px;width:24.3px;height:278.4px;background:linear-gradient(90deg,rgba(255,255,255,.5),rgba(255,255,255,0) 85%);"></div>
<div class="b" style="left:563.9px;top:2081px;width:24.1px;height:278.4px;background:linear-gradient(90deg,rgba(255,255,255,.5),rgba(255,255,255,0) 85%);"></div>
<div class="b" style="left:588px;top:2081px;width:23.8px;height:278.4px;background:linear-gradient(90deg,rgba(255,255,255,.5),rgba(255,255,255,0) 85%);"></div>
<div class="q hd" style="top:2063.8px"><i class="d1">A</i><i class="d2">B</i><i class="d3">C</i><i class="d4">D</i><i class="d5">E</i><i class="d6">F</i><i class="d7">G</i><i class="d8">H</i><i class="d9">K</i><i class="d10">M</i><i class="d11">N</i><i class="d12">P</i><i class="d13">R</i><i class="d14">S</i><i class="d15">T</i><i class="d16">AB</i><i class="d17">AC</i><i class="d18">AD</i><i class="d19">HD</i><i class="d20">HF</i><i class="d21">L</i></div>
<div class="q" style="top:2082.1px"><i class="d0">80</i><i class="d1">125</i><i class="d2">100</i><i class="d3">50</i><i class="d4">19</i><i class="d5">40</i><i class="d6">6</i><i class="d7">15.5</i><i class="d8">80</i><i class="d9">10</i><i class="d10">165</i><i class="d11">130</i><i class="d12">200</i><i class="d13">0</i><i class="d14">4-12</i><i class="d15">3.5</i><i class="d16">165</i><i class="d17">175</i><i class="d18">145</i><i class="d19">214</i><i class="d20">185</i><i class="d21">295</i></div>
<div class="q" style="top:2105.3px"><i class="d0">90S</i><i class="d1">140</i><i class="d2">100</i><i class="d3">56</i><i class="d4">24</i><i class="d5">50</i><i class="d6">8</i><i class="d7">20</i><i class="d8">90</i><i class="d9">10</i><i class="d10">165</i><i class="d11">130</i><i class="d12">200</i><i class="d13">0</i><i class="d14">4-12</i><i class="d15">3.5</i><i class="d16">180</i><i class="d17">195</i><i class="d18">155</i><i class="d19">250</i><i class="d20">195</i><i class="d21">315</i></div>
<div class="q" style="top:2128.5px"><i class="d0">90L</i><i class="d1">140</i><i class="d2">125</i><i class="d3">56</i><i class="d4">24</i><i class="d5">50</i><i class="d6">8</i><i class="d7">20</i><i class="d8">90</i><i class="d9">10</i><i class="d10">165</i><i class="d11">130</i><i class="d12">200</i><i class="d13">0</i><i class="d14">4-12</i><i class="d15">3.5</i><i class="d16">180</i><i class="d17">195</i><i class="d18">155</i><i class="d19">250</i><i class="d20">195</i><i class="d21">340</i></div>
<div class="q" style="top:2151.7px"><i class="d0">100L</i><i class="d1">160</i><i class="d2">140</i><i class="d3">63</i><i class="d4">28</i><i class="d5">60</i><i class="d6">8</i><i class="d7">24</i><i class="d8">100</i><i class="d9">12</i><i class="d10">215</i><i class="d11">180</i><i class="d12">250</i><i class="d13">0</i><i class="d14">4-15</i><i class="d15">4</i><i class="d16">205</i><i class="d17">215</i><i class="d18">180</i><i class="d19">270</i><i class="d20">245</i><i class="d21">385</i></div>
<div class="q" style="top:2174.9px"><i class="d0">112M</i><i class="d1">190</i><i class="d2">140</i><i class="d3">70</i><i class="d4">28</i><i class="d5">60</i><i class="d6">8</i><i class="d7">24</i><i class="d8">112</i><i class="d9">12</i><i class="d10">215</i><i class="d11">180</i><i class="d12">250</i><i class="d13">0</i><i class="d14">4-15</i><i class="d15">4</i><i class="d16">245</i><i class="d17">240</i><i class="d18">190</i><i class="d19">300</i><i class="d20">265</i><i class="d21">400</i></div>
<div class="q" style="top:2198.1px"><i class="d0">132S</i><i class="d1">216</i><i class="d2">140</i><i class="d3">89</i><i class="d4">38</i><i class="d5">80</i><i class="d6">10</i><i class="d7">33</i><i class="d8">132</i><i class="d9">12</i><i class="d10">265</i><i class="d11">230</i><i class="d12">300</i><i class="d13">0</i><i class="d14">4-15</i><i class="d15">4</i><i class="d16">280</i><i class="d17">275</i><i class="d18">210</i><i class="d19">345</i><i class="d20">315</i><i class="d21">470</i></div>
<div class="q" style="top:2221.3px"><i class="d0">132M</i><i class="d1">216</i><i class="d2">178</i><i class="d3">89</i><i class="d4">38</i><i class="d5">80</i><i class="d6">10</i><i class="d7">33</i><i class="d8">132</i><i class="d9">12</i><i class="d10">265</i><i class="d11">230</i><i class="d12">300</i><i class="d13">0</i><i class="d14">4-15</i><i class="d15">4</i><i class="d16">280</i><i class="d17">275</i><i class="d18">210</i><i class="d19">345</i><i class="d20">315</i><i class="d21">510</i></div>
<div class="q" style="top:2244.5px"><i class="d0">160M</i><i class="d1">254</i><i class="d2">210</i><i class="d3">108</i><i class="d4">42</i><i class="d5">110</i><i class="d6">12</i><i class="d7">37</i><i class="d8">160</i><i class="d9">15</i><i class="d10">300</i><i class="d11">250</i><i class="d12">350</i><i class="d13">0</i><i class="d14">4-19</i><i class="d15">5</i><i class="d16">330</i><i class="d17">330</i><i class="d18">255</i><i class="d19">420</i><i class="d20">385</i><i class="d21">615</i></div>
<div class="q" style="top:2267.7px"><i class="d0">160L</i><i class="d1">254</i><i class="d2">254</i><i class="d3">108</i><i class="d4">42</i><i class="d5">110</i><i class="d6">12</i><i class="d7">37</i><i class="d8">160</i><i class="d9">15</i><i class="d10">300</i><i class="d11">250</i><i class="d12">350</i><i class="d13">0</i><i class="d14">4-19</i><i class="d15">5</i><i class="d16">330</i><i class="d17">330</i><i class="d18">255</i><i class="d19">420</i><i class="d20">385</i><i class="d21">670</i></div>
<div class="q" style="top:2290.9px"><i class="d0">180M</i><i class="d1">279</i><i class="d2">241</i><i class="d3">121</i><i class="d4">48</i><i class="d5">110</i><i class="d6">14</i><i class="d7">42.5</i><i class="d8">180</i><i class="d9">15</i><i class="d10">300</i><i class="d11">250</i><i class="d12">350</i><i class="d13">0</i><i class="d14">4-19</i><i class="d15">5</i><i class="d16">355</i><i class="d17">380</i><i class="d18">280</i><i class="d19">455</i><i class="d20">430</i><i class="d21">700</i></div>
<div class="q" style="top:2314.1px"><i class="d0">180L</i><i class="d1">279</i><i class="d2">279</i><i class="d3">121</i><i class="d4">48</i><i class="d5">110</i><i class="d6">14</i><i class="d7">42.5</i><i class="d8">180</i><i class="d9">15</i><i class="d10">300</i><i class="d11">250</i><i class="d12">350</i><i class="d13">0</i><i class="d14">4-19</i><i class="d15">5</i><i class="d16">355</i><i class="d17">380</i><i class="d18">280</i><i class="d19">455</i><i class="d20">430</i><i class="d21">740</i></div>
<div class="q" style="top:2337.3px"><i class="d0">200L</i><i class="d1">318</i><i class="d2">305</i><i class="d3">133</i><i class="d4">55</i><i class="d5">110</i><i class="d6">16</i><i class="d7">49</i><i class="d8">200</i><i class="d9">19</i><i class="d10">350</i><i class="d11">300</i><i class="d12">400</i><i class="d13">0</i><i class="d14">4-19</i><i class="d15">5</i><i class="d16">395</i><i class="d17">420</i><i class="d18">305</i><i class="d19">505</i><i class="d20">480</i><i class="d21">770</i></div>
<div class="t serif" style="left:60.7px;top:2059px;font-size:9.2px;font-weight:bold;letter-spacing:0px;transform:scaleX(.93);width:35.3px;text-align:center;color:#2b2b2b;">Frame</div>
<div class="t serif" style="left:60.7px;top:2067px;font-size:9.2px;font-weight:bold;letter-spacing:0px;transform:scaleX(.93);width:35.3px;text-align:center;color:#2b2b2b;">Size</div>
<div class="t serif" style="left:181px;top:2051.6px;font-size:9.5px;font-weight:bold;letter-spacing:0.02px;width:200px;text-align:center;color:#2b2b2b;">Mounting Dimensions (mm)</div>
<div class="t serif" style="left:438.5px;top:2051.6px;font-size:9.5px;font-weight:bold;letter-spacing:0.02px;width:200px;text-align:center;color:#2b2b2b;">Overall Dimension (mm)</div><svg id="ov" width="696" height="2416" viewBox="0 0 696 2416"><g transform="translate(74.8,50.91) scale(0.1645,0.1456)" fill="#151515"><text font-family="'Liberation Sans','Noto Sans CJK SC',sans-serif" font-weight="bold" font-size="125" letter-spacing="8.5" x="0" y="0">系列三相异步电动机</text></g>
<g transform="translate(35.3,71.33) scale(0.1038,0.0880)" fill="#222" stroke="#222" stroke-width="2.5"><text font-family="'Liberation Sans','Noto Sans CJK SC',sans-serif" font-size="125" letter-spacing="-1.7" y="0"><tspan x="0">本系列三相异步电动机是</tspan><tspan x="1435.1">系列电机的更新换代产品，是一般用途的金封闭的自扇冷</tspan></text></g>
<text style="white-space:pre" transform="translate(176.1,71.33) scale(1.18,1)" font-family="Liberation Sans" font-weight="normal" font-size="10.67" fill="#222" stroke="#222" stroke-width="0.35">Y</text>
<g transform="translate(12.3,91.77) scale(0.1038,0.0880)" fill="#222" stroke="#222" stroke-width="2.5"><text font-family="'Liberation Sans','Noto Sans CJK SC',sans-serif" font-size="125" letter-spacing="-1.35" y="0"><tspan x="0">式鼠笼型三相异步电机。其功率等级和安装尺寸符合</tspan><tspan x="3045">标准，亦与德国</tspan><tspan x="4367.7">标准一</tspan></text></g>
<text style="white-space:pre" transform="translate(307.64,91.77) scale(1.18,1)" font-family="Liberation Sans" font-weight="normal" font-size="10.67" fill="#222" stroke="#222" stroke-width="0.35">IEC</text>
<text style="white-space:pre" transform="translate(418.38,91.77) scale(1.18,1)" font-family="Liberation Sans" font-weight="normal" font-size="10.67" fill="#222" stroke="#222" stroke-width="0.35">IN42673</text>
<g transform="translate(12.3,112.19) scale(0.1038,0.0880)" fill="#222" stroke="#222" stroke-width="2.5"><text font-family="'Liberation Sans','Noto Sans CJK SC',sans-serif" font-size="125" letter-spacing="-0.07" y="0"><tspan x="0">致，整体性能达到国外同类产品的先进水平，具有效率高</tspan><tspan x="3163.5">相当于欧洲能耗标准的</tspan><tspan x="4615">水</tspan></text></g>
<text style="white-space:pre" transform="translate(336.62,112.19) scale(1.18,1)" font-family="Liberation Sans" font-weight="normal" font-size="10.67" fill="#222" stroke="#222" stroke-width="0.35">(</text>
<text style="white-space:pre" transform="translate(470.53,112.19) scale(1.18,1)" font-family="Liberation Sans" font-weight="normal" font-size="10.67" fill="#222" stroke="#222" stroke-width="0.35">eff2</text>
<g transform="translate(12.3,132.62) scale(0.1038,0.0880)" fill="#222" stroke="#222" stroke-width="2.5"><text font-family="'Liberation Sans','Noto Sans CJK SC',sans-serif" font-size="125" letter-spacing="2" y="0"><tspan x="0">平</tspan><tspan x="169.4">，低噪声、振动小、可靠性高、外形美观、使用维护方便等特点，适应于机床、水</tspan></text></g>
<text style="white-space:pre" transform="translate(25.49,132.62) scale(1.18,1)" font-family="Liberation Sans" font-weight="normal" font-size="10.67" fill="#222" stroke="#222" stroke-width="0.35">)</text>
<g transform="translate(12.3,153.06) scale(0.1038,0.0880)" fill="#222" stroke="#222" stroke-width="2.5"><text font-family="'Liberation Sans','Noto Sans CJK SC',sans-serif" font-size="125" letter-spacing="-0.27" x="0" y="0">泵、风机、压缩机等设备的电力拖动，也可适用于输送、搅拌、印刷、纺织、食品等各</text></g>
<g transform="translate(12.3,173.49) scale(0.1038,0.0880)" fill="#222" stroke="#222" stroke-width="2.5"><text font-family="'Liberation Sans','Noto Sans CJK SC',sans-serif" font-size="125" letter-spacing="-2.7" x="0" y="0">类不含易燃易爆或腐蚀性气体的场合。</text></g>
<g transform="translate(36,193.92) scale(0.1038,0.0880)" fill="#222" stroke="#222" stroke-width="2.5"><text font-family="'Liberation Sans','Noto Sans CJK SC',sans-serif" font-size="125" letter-spacing="-3.7" y="0"><tspan x="0">本系列电机采用</tspan><tspan x="919.1">级绝缘，温升按</tspan><tspan x="1845">级考核</tspan><tspan x="2245.4">除</tspan><tspan x="2868.7">，</tspan><tspan x="3188.5">全部规格按</tspan><tspan x="3865.1">级考核外</tspan><tspan x="4386.7">，</tspan></text></g>
<text style="white-space:pre" transform="translate(124.14,193.92) scale(1.18,1)" font-family="Liberation Sans" font-weight="normal" font-size="10.67" fill="#222" stroke="#222" stroke-width="0.35">F</text>
<text style="white-space:pre" transform="translate(219.58,193.92) scale(1.18,1)" font-family="Liberation Sans" font-weight="normal" font-size="10.67" fill="#222" stroke="#222" stroke-width="0.35">B</text>
<text style="white-space:pre" transform="translate(265.36,193.92) scale(1.18,1)" font-family="Liberation Sans" font-weight="normal" font-size="10.67" fill="#222" stroke="#222" stroke-width="0.35">(</text>
<text style="white-space:pre" transform="translate(281.76,193.92) scale(1.18,1)" font-family="Liberation Sans" font-weight="normal" font-size="10.67" fill="#222" stroke="#222" stroke-width="0.35">315L–2.4</text>
<text style="white-space:pre" transform="translate(346.47,193.92) scale(1.18,1)" font-family="Liberation Sans" font-weight="normal" font-size="10.67" fill="#222" stroke="#222" stroke-width="0.35">355</text>
<text style="white-space:pre" transform="translate(430.05,193.92) scale(1.18,1)" font-family="Liberation Sans" font-weight="normal" font-size="10.67" fill="#222" stroke="#222" stroke-width="0.35">F</text>
<text style="white-space:pre" transform="translate(487.72,193.92) scale(1.18,1)" font-family="Liberation Sans" font-weight="normal" font-size="10.67" fill="#222" stroke="#222" stroke-width="0.35">)</text>
<g transform="translate(12.3,214.34) scale(0.1038,0.0880)" fill="#222" stroke="#222" stroke-width="2.5"><text font-family="'Liberation Sans','Noto Sans CJK SC',sans-serif" font-size="125" letter-spacing="-1.3" y="0"><tspan x="0">其外壳防护等级为</tspan><tspan x="1237.6">。亦可按用户要求采用</tspan><tspan x="2722.7">。</tspan></text></g>
<text style="white-space:pre" transform="translate(115.05,214.34) scale(1.18,1)" font-family="Liberation Sans" font-weight="normal" font-size="10.67" fill="#222" stroke="#222" stroke-width="0.35">IP54</text>
<text style="white-space:pre" transform="translate(269.26,214.34) scale(1.18,1)" font-family="Liberation Sans" font-weight="normal" font-size="10.67" fill="#222" stroke="#222" stroke-width="0.35">IP55</text>
<g transform="translate(46.5,242.58) scale(0.1183,0.1056)" fill="#151515"><text font-family="'Liberation Sans','Noto Sans CJK SC',sans-serif" font-weight="bold" font-size="125" letter-spacing="7.6" x="0" y="0">电动机的使用条件</text></g>
<g transform="translate(38.5,269.24) scale(0.1038,0.0880)" fill="#222" stroke="#222" stroke-width="2.5"><text font-family="'Liberation Sans','Noto Sans CJK SC',sans-serif" font-size="125" letter-spacing="-1.2" y="0"><tspan x="0">使用条件：在海拔不超过</tspan><tspan x="1629.9">米、环境温度不超过</tspan><tspan x="2877.5">℃，电源电压偏差不超过额定</tspan></text></g>
<text style="white-space:pre" transform="translate(179.87,269.24) scale(1.18,1)" font-family="Liberation Sans" font-weight="normal" font-size="10.67" fill="#222" stroke="#222" stroke-width="0.35">1000</text>
<text style="white-space:pre" transform="translate(323.42,269.24) scale(1.18,1)" font-family="Liberation Sans" font-weight="normal" font-size="10.67" fill="#222" stroke="#222" stroke-width="0.35">40</text>
<g transform="translate(12.3,289.63) scale(0.1038,0.0880)" fill="#222" stroke="#222" stroke-width="2.5"><text font-family="'Liberation Sans','Noto Sans CJK SC',sans-serif" font-size="125" letter-spacing="-0.75" y="0"><tspan x="0">值的</tspan><tspan x="523.2">，电源频率不超过额定值的</tspan><tspan x="2289">时，电动机能按额定功率连续运行。</tspan></text></g>
<text style="white-space:pre" transform="translate(38.1,289.63) scale(1.18,1)" font-family="Liberation Sans" font-weight="normal" font-size="10.67" fill="#222" stroke="#222" stroke-width="0.35"> ±5%</text>
<text style="white-space:pre" transform="translate(221.46,289.63) scale(1.18,1)" font-family="Liberation Sans" font-weight="normal" font-size="10.67" fill="#222" stroke="#222" stroke-width="0.35"> ±1%</text>
<g transform="translate(40.9,321.33) scale(0.1306,0.1232)" fill="#151515"><text font-family="'Liberation Sans','Noto Sans CJK SC',sans-serif" font-weight="bold" font-size="125" letter-spacing="6.1" x="0" y="0">接线方式</text></g>
<g transform="translate(45,352.12) scale(0.1075,0.0960)" fill="#151515"><text font-family="'Liberation Sans','Noto Sans CJK SC',sans-serif" font-weight="bold" font-size="125" letter-spacing="4.95" y="0"><tspan x="0">能连接成二种方式，即</tspan><tspan x="1385.3">形接法和△形接法，如下图所示：</tspan></text></g>
<text style="white-space:pre" transform="translate(184.72,352.12) scale(1.12,1)" font-family="Liberation Sans" font-weight="bold" font-size="11.64" fill="#151515">Y</text>
<path d="M71.8 408.7H168.6" stroke="#3a3a3a" stroke-width="1" fill="none"/><path d="M71.8 444V477" stroke="#3a3a3a" stroke-width="1" fill="none"/><path d="M71.8 488l-1.7 -12h3.4z" fill="#3a3a3a"/><circle cx="71.8" cy="408.7" r="4.5" fill="#fff" stroke="#3a3a3a" stroke-width="1"/><circle cx="71.8" cy="444" r="4.5" fill="#fff" stroke="#3a3a3a" stroke-width="1"/><path d="M120.1 444V477" stroke="#3a3a3a" stroke-width="1" fill="none"/><path d="M120.1 488l-1.7 -12h3.4z" fill="#3a3a3a"/><circle cx="120.1" cy="408.7" r="4.5" fill="#fff" stroke="#3a3a3a" stroke-width="1"/><circle cx="120.1" cy="444" r="4.5" fill="#fff" stroke="#3a3a3a" stroke-width="1"/><path d="M168.6 444V477" stroke="#3a3a3a" stroke-width="1" fill="none"/><path d="M168.6 488l-1.7 -12h3.4z" fill="#3a3a3a"/><circle cx="168.6" cy="408.7" r="4.5" fill="#fff" stroke="#3a3a3a" stroke-width="1"/><circle cx="168.6" cy="444" r="4.5" fill="#fff" stroke="#3a3a3a" stroke-width="1"/>
<text transform="translate(68.2,399.8) scale(0.9,1)" font-family="Liberation Serif" font-weight="bold" font-size="10.2" fill="#222">W<tspan font-size="7.4" dy="0.2" dx="0.6">2</tspan></text>
<text transform="translate(116.8,399.8) scale(0.9,1)" font-family="Liberation Serif" font-weight="bold" font-size="10.2" fill="#222">U<tspan font-size="7.4" dy="0.2" dx="0.6">2</tspan></text>
<text transform="translate(163.2,399.8) scale(0.9,1)" font-family="Liberation Serif" font-weight="bold" font-size="10.2" fill="#222">V<tspan font-size="7.4" dy="0.2" dx="0.6">2</tspan></text>
<text transform="translate(78.2,436.5) scale(0.9,1)" font-family="Liberation Serif" font-weight="bold" font-size="10.2" fill="#222">U<tspan font-size="7.4" dy="0.2" dx="0.6">1</tspan></text>
<text transform="translate(126.8,436.5) scale(0.9,1)" font-family="Liberation Serif" font-weight="bold" font-size="10.2" fill="#222">V<tspan font-size="7.4" dy="0.2" dx="0.6">1</tspan></text>
<text transform="translate(171.8,436.5) scale(0.9,1)" font-family="Liberation Serif" font-weight="bold" font-size="10.2" fill="#222">W<tspan font-size="7.4" dy="0.2" dx="0.6">1</tspan></text>
<path d="M337.5 408.7V444" stroke="#3a3a3a" stroke-width="1" fill="none"/><path d="M337.5 444V477" stroke="#3a3a3a" stroke-width="1" fill="none"/><path d="M337.5 488l-1.7 -12h3.4z" fill="#3a3a3a"/><circle cx="337.5" cy="408.7" r="4.5" fill="#fff" stroke="#3a3a3a" stroke-width="1"/><circle cx="337.5" cy="444" r="4.5" fill="#fff" stroke="#3a3a3a" stroke-width="1"/><path d="M386.3 408.7V444" stroke="#3a3a3a" stroke-width="1" fill="none"/><path d="M386.3 444V477" stroke="#3a3a3a" stroke-width="1" fill="none"/><path d="M386.3 488l-1.7 -12h3.4z" fill="#3a3a3a"/><circle cx="386.3" cy="408.7" r="4.5" fill="#fff" stroke="#3a3a3a" stroke-width="1"/><circle cx="386.3" cy="444" r="4.5" fill="#fff" stroke="#3a3a3a" stroke-width="1"/><path d="M434 408.7V444" stroke="#3a3a3a" stroke-width="1" fill="none"/><path d="M434 444V477" stroke="#3a3a3a" stroke-width="1" fill="none"/><path d="M434 488l-1.7 -12h3.4z" fill="#3a3a3a"/><circle cx="434" cy="408.7" r="4.5" fill="#fff" stroke="#3a3a3a" stroke-width="1"/><circle cx="434" cy="444" r="4.5" fill="#fff" stroke="#3a3a3a" stroke-width="1"/>
<text transform="translate(334,399.8) scale(0.9,1)" font-family="Liberation Serif" font-weight="bold" font-size="10.2" fill="#222">W<tspan font-size="7.4" dy="0.2" dx="0.6">2</tspan></text>
<text transform="translate(383,399.8) scale(0.9,1)" font-family="Liberation Serif" font-weight="bold" font-size="10.2" fill="#222">U<tspan font-size="7.4" dy="0.2" dx="0.6">2</tspan></text>
<text transform="translate(429,399.8) scale(0.9,1)" font-family="Liberation Serif" font-weight="bold" font-size="10.2" fill="#222">V<tspan font-size="7.4" dy="0.2" dx="0.6">2</tspan></text>
<text transform="translate(344.5,436.5) scale(0.9,1)" font-family="Liberation Serif" font-weight="bold" font-size="10.2" fill="#222">U<tspan font-size="7.4" dy="0.2" dx="0.6">1</tspan></text>
<text transform="translate(392.5,436.5) scale(0.9,1)" font-family="Liberation Serif" font-weight="bold" font-size="10.2" fill="#222">V<tspan font-size="7.4" dy="0.2" dx="0.6">1</tspan></text>
<text transform="translate(437.5,436.5) scale(0.9,1)" font-family="Liberation Serif" font-weight="bold" font-size="10.2" fill="#222">W<tspan font-size="7.4" dy="0.2" dx="0.6">1</tspan></text>
<g transform="translate(100.5,516.23) scale(0.0938,0.0816)" fill="#222"><text font-family="'Liberation Sans','Noto Sans CJK SC',sans-serif" font-weight="bold" font-size="125" x="83.4" y="0">形接法</text></g>
<text style="white-space:pre" transform="translate(100.5,516.23) scale(1.15,1)" font-family="Liberation Sans" font-weight="bold" font-size="10.2" fill="#222">Y</text>
<g transform="translate(366.5,516.23) scale(0.0938,0.0816)" fill="#222"><text font-family="'Liberation Sans','Noto Sans CJK SC',sans-serif" font-weight="bold" font-size="125" x="0" y="0">△形接法</text></g>
<g transform="translate(362,526.37) scale(0.0902,0.0784)" fill="#222"><text font-family="'Liberation Sans','Noto Sans CJK SC',sans-serif" font-weight="bold" font-size="125" x="0" y="0">△</text></g>
<g transform="translate(45,550.2) scale(0.0806,0.0768)" fill="#151515"><text font-family="'Liberation Sans','Noto Sans CJK SC',sans-serif" font-weight="bold" font-size="125" y="0"><tspan x="0">如果采用</tspan><tspan x="581.6">形接法电源电压为</tspan></text></g>
<text style="white-space:pre" transform="translate(85.32,550.2) scale(1.05,1)" font-family="Liberation Sans" font-weight="bold" font-size="9.4" fill="#151515">Y</text>
<text style="white-space:pre" transform="translate(172.54,550.2) scale(1.05,1)" font-family="Liberation Sans" font-weight="bold" font-size="9.4" fill="#151515">U</text>
<text x="179.87" y="552.2" font-family="Liberation Sans" font-weight="bold" font-size="5" fill="#151515">Y</text>
<g transform="translate(183.47,550.2) scale(0.0806,0.0768)" fill="#151515"><text font-family="'Liberation Sans','Noto Sans CJK SC',sans-serif" font-weight="bold" font-size="125" x="0" y="0">的电机，采用△接法时其电源电压应符合如下基本要求：</text></g>
<text style="white-space:pre" transform="translate(435.47,550.2) scale(1.05,1)" font-family="Liberation Sans" font-weight="bold" font-size="9.4" fill="#151515">U</text>
<g transform="translate(442.9,551.29) scale(0.0352,0.0352)" fill="#151515"><text font-family="'Liberation Sans','Noto Sans CJK SC',sans-serif" font-weight="bold" font-size="125" x="0" y="0">△</text></g>
<text style="white-space:pre" transform="translate(447.2,550.2) scale(1.05,1)" font-family="Liberation Sans" font-weight="bold" font-size="9.4" fill="#151515">=U</text>
<text x="460.29" y="552.2" font-family="Liberation Sans" font-weight="bold" font-size="5" fill="#151515">Y</text>
<text style="white-space:pre" transform="translate(463.69,550.2) scale(1.05,1)" font-family="Liberation Sans" font-weight="bold" font-size="9.4" fill="#151515">/</text>
<path d="M466.73 547.5l1.6 -1l2 4.2l2.2 -9.2h7" stroke="#151515" stroke-width="0.9" fill="none"/>
<text style="white-space:pre" transform="translate(472.63,550.2) scale(1.05,1)" font-family="Liberation Sans" font-weight="bold" font-size="9.4" fill="#151515">3</text>
<g transform="translate(480.62,550.2) scale(0.0806,0.0768)" fill="#151515"><text font-family="'Liberation Sans','Noto Sans CJK SC',sans-serif" font-weight="bold" font-size="125" x="0" y="0">。</text></g>
<g transform="translate(58,576.49) scale(0.1575,0.1432)" fill="#151515"><text font-family="'Liberation Sans','Noto Sans CJK SC',sans-serif" font-weight="bold" font-size="125" letter-spacing="17.1" x="0" y="0">技术数据</text></g>
<path d="M25.3 637.4H668.5M25.3 653.19H668.5M25.3 668.98H668.5M25.3 684.77H668.5M25.3 700.56H668.5M25.3 716.35H668.5M25.3 732.14H668.5M25.3 747.93H668.5M25.3 763.72H668.5M25.3 779.51H668.5M25.3 795.3H668.5M25.3 811.09H668.5M25.3 826.88H668.5M25.3 842.67H668.5M25.3 858.46H668.5M25.3 874.25H668.5M25.3 890.04H668.5M25.3 905.83H668.5M25.3 921.62H668.5M25.3 937.41H668.5M25.3 953.2H668.5M25.3 968.99H668.5M25.3 984.78H668.5M25.3 1000.57H668.5M25.3 1016.36H668.5M25.3 1032.15H668.5M25.3 1047.94H668.5M25.3 1063.73H668.5M25.3 1079.52H668.5M25.3 1095.31H668.5M25.3 1111.1H668.5M25.3 1126.89H668.5M25.3 1142.68H668.5M25.3 1158.47H668.5M25.3 1174.26H668.5M25.3 1190.05H668.5M25.3 1205.84H668.5M25.3 1221.63H668.5M25.3 1237.42H668.5M25.3 1253.21H668.5M25.3 1269H668.5M25.3 1284.79H668.5M25.3 1300.58H668.5M25.3 1316.37H668.5M25.3 1332.16H668.5M25.3 1347.95H668.5M25.3 1363.74H668.5M25.3 1379.53H668.5M25.3 1395.32H668.5M25.3 1411.11H668.5M25.3 1426.9H668.5M25.3 1442.69H668.5M25.3 1458.48H668.5M25.3 1474.27H668.5M25.3 1490.06H668.5M25.3 1505.85H668.5" stroke="#f3f9fe" stroke-width="1" fill="none"/>
<path d="M389.8 601.1H453.2M389.8 615.9H453.2M453.2 601.1H515.4M453.2 615.9H515.4M515.4 601.1H577.8M515.4 615.9H577.8" stroke="#e4f1fc" stroke-width="1" fill="none"/>
<path d="M105.8 587V1521.64M148.9 587V1521.64M191.8 587V1521.64M235.5 587V1521.64M278.9 587V1521.64M331.5 587V1521.64M389.8 587V1521.64M453.2 587V1521.64M515.4 587V1521.64M577.8 587V1521.64M623.5 587V1521.64" stroke="#f1f8fe" stroke-width="1.2" fill="none"/>
<g transform="translate(52.29,604.87) scale(0.1021,0.0928)" fill="#15192a"><text font-family="'Liberation Sans','Noto Sans CJK SC',sans-serif" font-weight="bold" font-size="125" letter-spacing="9.8" x="0" y="0">型号</text></g>
<g transform="translate(114.09,604.87) scale(0.1021,0.0928)" fill="#15192a"><text font-family="'Liberation Sans','Noto Sans CJK SC',sans-serif" font-weight="bold" font-size="125" letter-spacing="9.8" x="0" y="0">功率</text></g>
<g transform="translate(157.09,604.87) scale(0.1021,0.0928)" fill="#15192a"><text font-family="'Liberation Sans','Noto Sans CJK SC',sans-serif" font-weight="bold" font-size="125" letter-spacing="9.8" x="0" y="0">电压</text></g>
<g transform="translate(200.39,604.87) scale(0.1021,0.0928)" fill="#15192a"><text font-family="'Liberation Sans','Noto Sans CJK SC',sans-serif" font-weight="bold" font-size="125" letter-spacing="9.8" x="0" y="0">电流</text></g>
<g transform="translate(243.94,604.87) scale(0.1021,0.0928)" fill="#15192a"><text font-family="'Liberation Sans','Noto Sans CJK SC',sans-serif" font-weight="bold" font-size="125" letter-spacing="9.8" x="0" y="0">转速</text></g>
<g transform="translate(291.94,604.87) scale(0.1021,0.0928)" fill="#15192a"><text font-family="'Liberation Sans','Noto Sans CJK SC',sans-serif" font-weight="bold" font-size="125" letter-spacing="9.8" x="0" y="0">效率</text></g>
<g transform="translate(335.14,604.87) scale(0.1002,0.0928)" fill="#15192a"><text font-family="'Liberation Sans','Noto Sans CJK SC',sans-serif" font-weight="bold" font-size="125" letter-spacing="3" x="0" y="0">功率因数</text></g>
<g transform="translate(396.04,598.35) scale(0.0976,0.0904)" fill="#15192a"><text font-family="'Liberation Sans','Noto Sans CJK SC',sans-serif" font-weight="bold" font-size="125" letter-spacing="7.2" x="0" y="0">堵转转距</text></g>
<g transform="translate(396.04,613.15) scale(0.0976,0.0904)" fill="#15192a"><text font-family="'Liberation Sans','Noto Sans CJK SC',sans-serif" font-weight="bold" font-size="125" letter-spacing="7.2" x="0" y="0">额定转距</text></g>
<g transform="translate(458.84,598.35) scale(0.0976,0.0904)" fill="#15192a"><text font-family="'Liberation Sans','Noto Sans CJK SC',sans-serif" font-weight="bold" font-size="125" letter-spacing="7.2" x="0" y="0">堵转电流</text></g>
<g transform="translate(458.84,613.15) scale(0.0976,0.0904)" fill="#15192a"><text font-family="'Liberation Sans','Noto Sans CJK SC',sans-serif" font-weight="bold" font-size="125" letter-spacing="7.2" x="0" y="0">额定电流</text></g>
<g transform="translate(521.14,598.35) scale(0.0976,0.0904)" fill="#15192a"><text font-family="'Liberation Sans','Noto Sans CJK SC',sans-serif" font-weight="bold" font-size="125" letter-spacing="7.2" x="0" y="0">最大转距</text></g>
<g transform="translate(521.14,613.15) scale(0.0976,0.0904)" fill="#15192a"><text font-family="'Liberation Sans','Noto Sans CJK SC',sans-serif" font-weight="bold" font-size="125" letter-spacing="7.2" x="0" y="0">额定转距</text></g>
<g transform="translate(587.39,604.87) scale(0.1021,0.0928)" fill="#15192a"><text font-family="'Liberation Sans','Noto Sans CJK SC',sans-serif" font-weight="bold" font-size="125" letter-spacing="9.8" x="0" y="0">重量</text></g>
<g transform="translate(632.74,604.87) scale(0.1021,0.0928)" fill="#15192a"><text font-family="'Liberation Sans','Noto Sans CJK SC',sans-serif" font-weight="bold" font-size="125" letter-spacing="9.8" x="0" y="0">噪音</text></g>
<g transform="translate(284.5,1534.03) scale(0.0838,0.0776)" fill="#151515"><text font-family="'Liberation Sans','Noto Sans CJK SC',sans-serif" font-weight="bold" font-size="125" letter-spacing="4.8" x="0" y="0">注：若有特殊要求，可按客户需要提供。</text></g>
<g transform="translate(52.6,1564.92) scale(0.1149,0.1064)" fill="#151515"><text font-family="'Liberation Sans','Noto Sans CJK SC',sans-serif" font-weight="bold" font-size="125" letter-spacing="4.35" x="0" y="0">安装及外形尺寸图</text></g>
<g transform="translate(86.2,2026.02) scale(0.1238,0.1168)" fill="#151515"><text font-family="'Liberation Sans','Noto Sans CJK SC',sans-serif" font-weight="bold" font-size="125" letter-spacing="1.6" x="0" y="0">安装及外形尺寸表</text></g>
<path d="M60.7 2081H611.8M60.7 2104.2H611.8M60.7 2127.4H611.8M60.7 2150.6H611.8M60.7 2173.8H611.8M60.7 2197H611.8M60.7 2220.2H611.8M60.7 2243.4H611.8M60.7 2266.6H611.8M60.7 2289.8H611.8M60.7 2313H611.8M60.7 2336.2H611.8M96 2062.6H611.8" stroke="#f3f9fe" stroke-width="1.1" fill="none"/>
<path d="M96 2037V2359.4M464.6 2037V2359.4M120.5 2062.6V2359.4M145 2062.6V2359.4M169.5 2062.6V2359.4M194 2062.6V2359.4M218.5 2062.6V2359.4M243 2062.6V2359.4M267.5 2062.6V2359.4M292 2062.6V2359.4M316.5 2062.6V2359.4M341 2062.6V2359.4M365.5 2062.6V2359.4M391.3 2062.6V2359.4M406.6 2062.6V2359.4M440.3 2062.6V2359.4M490 2062.6V2359.4M515 2062.6V2359.4M539.6 2062.6V2359.4M563.9 2062.6V2359.4M588 2062.6V2359.4" stroke="#f1f8fe" stroke-width="1.3" fill="none"/>
<g transform="translate(62.6,2055.76) scale(0.0864,0.0864)" fill="#15192a"><text font-family="'Liberation Sans','Noto Sans CJK SC',sans-serif" font-weight="bold" font-size="125" x="0" y="0">机座号</text></g>
<g transform="translate(236.8,2049.22) scale(0.0960,0.0960)" fill="#1d2436" stroke="#1d2436" stroke-width="1.2"><text font-family="'Liberation Sans','Noto Sans CJK SC',sans-serif" font-size="125" x="0" y="0">安</text></g>
<g transform="translate(261.7,2049.22) scale(0.0960,0.0960)" fill="#1d2436" stroke="#1d2436" stroke-width="1.2"><text font-family="'Liberation Sans','Noto Sans CJK SC',sans-serif" font-size="125" x="0" y="0">装</text></g>
<g transform="translate(287.5,2049.22) scale(0.0960,0.0960)" fill="#1d2436" stroke="#1d2436" stroke-width="1.2"><text font-family="'Liberation Sans','Noto Sans CJK SC',sans-serif" font-size="125" x="0" y="0">尺</text></g>
<g transform="translate(311.8,2049.22) scale(0.0960,0.0960)" fill="#1d2436" stroke="#1d2436" stroke-width="1.2"><text font-family="'Liberation Sans','Noto Sans CJK SC',sans-serif" font-size="125" x="0" y="0">寸</text></g>
<g transform="translate(503.8,2049.22) scale(0.0960,0.0960)" fill="#1d2436" stroke="#1d2436" stroke-width="1.2"><text font-family="'Liberation Sans','Noto Sans CJK SC',sans-serif" font-size="125" x="0" y="0">外</text></g>
<g transform="translate(523.5,2049.22) scale(0.0960,0.0960)" fill="#1d2436" stroke="#1d2436" stroke-width="1.2"><text font-family="'Liberation Sans','Noto Sans CJK SC',sans-serif" font-size="125" x="0" y="0">形</text></g>
<g transform="translate(543.5,2049.22) scale(0.0960,0.0960)" fill="#1d2436" stroke="#1d2436" stroke-width="1.2"><text font-family="'Liberation Sans','Noto Sans CJK SC',sans-serif" font-size="125" x="0" y="0">尺</text></g>
<g transform="translate(563.2,2049.22) scale(0.0960,0.0960)" fill="#1d2436" stroke="#1d2436" stroke-width="1.2"><text font-family="'Liberation Sans','Noto Sans CJK SC',sans-serif" font-size="125" x="0" y="0">寸</text></g>
<g fill="none" stroke="#303030" stroke-linecap="butt"><circle cx="169.8" cy="1649.6" r="28.6" stroke-width="1.1"/><circle cx="169.8" cy="1649.6" r="25.1" stroke-width="0.9"/><circle cx="169.8" cy="1649.6" r="14.6" stroke-width="0.9"/><circle cx="169.8" cy="1649.6" r="6.2" stroke-width="3.2" stroke="#4a4a4a"/><circle cx="169.8" cy="1649.6" r="6.2" stroke-width="2.0" stroke="#777" stroke-dasharray="1 1"/><circle cx="169.8" cy="1649.6" r="3.2" stroke-width="0.9" fill="#fff"/><path d="M167.8 1651.6L171.8 1647.6" stroke-width="0.5"/><path d="M167.8 1621.6V1613.7Q169.8 1611.2 172 1613.7V1621.6" stroke-width="0.9" fill="#fff"/><path d="M165.5 1624.6v-4.2h8.4v4.2" stroke-width="0.9" fill="#fff"/><path d="M194.2 1634.5L206.4 1635.2L208.6 1660.7L205.7 1662.1L195.7 1662.1" stroke-width="0.9"/><path d="M194.2 1634.5L208.6 1660.7" stroke-width="0.9"/><path d="M196.7 1638.4L205.7 1662.1" stroke-width="0.8"/><path d="M198.05 1641.95L200.65 1641.36" stroke-width="0.5"/><path d="M199.4 1645.51L202 1644.91" stroke-width="0.5"/><path d="M200.75 1649.06L203.35 1648.46" stroke-width="0.5"/><path d="M202.1 1652.62L204.7 1652.02" stroke-width="0.5"/><path d="M203.45 1656.17L206.05 1655.58" stroke-width="0.5"/><path d="M204.8 1659.73L207.4 1659.13" stroke-width="0.5"/><path d="M129.8 1649.6L226.8 1649.6" stroke-width="0.7" stroke-dasharray="7 1.5 1.5 1.5"/><path d="M169.8 1598.6L169.8 1685.6" stroke-width="0.7" stroke-dasharray="7 1.5 1.5 1.5"/><path d="M145.4 1665.7L135.5 1677.7V1682H151.1V1677.7L154.2 1673.6" stroke-width="0.9" fill="#fff"/><path d="M135.5 1677.7L151.1 1677.7" stroke-width="0.8"/><path d="M149 1669.4L142.5 1677.7" stroke-width="0.7"/><path d="M142.5 1677.7L142.5 1682" stroke-width="0.6"/><path d="M139.4 1677.7L139.4 1682" stroke-width="0.6"/><path d="M137 1677.7L137 1682" stroke-width="0.6"/><path d="M194.2 1665.7L204.1 1677.7V1682H188.5V1677.7L185.4 1673.6" stroke-width="0.9" fill="#fff"/><path d="M204.1 1677.7L188.5 1677.7" stroke-width="0.8"/><path d="M190.6 1669.4L197.1 1677.7" stroke-width="0.7"/><path d="M197.1 1677.7L197.1 1682" stroke-width="0.6"/><path d="M200.2 1677.7L200.2 1682" stroke-width="0.6"/><path d="M202.6 1677.7L202.6 1682" stroke-width="0.6"/><path d="M197.6 1682L197.6 1698" stroke-width="0.75"/><path d="M202 1682L202 1698" stroke-width="0.75"/><path d="M178.6 1695L197.6 1695" stroke-width="0.75"/><path d="M202 1695L221 1695" stroke-width="0.75"/><path d="M197.6 1695L190.1 1696.4L190.1 1693.6z" fill="#303030" stroke="none"/><path d="M202 1695L209.5 1693.6L209.5 1696.4z" fill="#303030" stroke="none"/><text transform="translate(216.4,1690.7) scale(1.16,1)" text-anchor="middle" dy="0.36em" font-family="Liberation Sans" font-size="8.2" fill="#222" stroke="#222" stroke-width="0.22">K</text><path d="M139.6 1682L139.6 1707" stroke-width="0.75"/><path d="M199.8 1682L199.8 1707" stroke-width="0.75"/><path d="M139.6 1704.5L199.8 1704.5" stroke-width="0.75"/><path d="M139.6 1704.5L147.1 1703.1L147.1 1705.9z" fill="#303030" stroke="none"/><path d="M199.8 1704.5L192.3 1705.9L192.3 1703.1z" fill="#303030" stroke="none"/><text transform="translate(169.8,1700.2) scale(1.16,1)" text-anchor="middle" dy="0.36em" font-family="Liberation Sans" font-size="8.2" fill="#222" stroke="#222" stroke-width="0.22">A</text><path d="M135.2 1682L135.2 1720" stroke-width="0.75"/><path d="M203.6 1682L203.6 1720" stroke-width="0.75"/><path d="M135.2 1717L203.6 1717" stroke-width="0.75"/><path d="M135.2 1717L142.7 1715.6L142.7 1718.4z" fill="#303030" stroke="none"/><path d="M203.6 1717L196.1 1718.4L196.1 1715.6z" fill="#303030" stroke="none"/><text transform="translate(169.8,1711.6) scale(1.16,1)" text-anchor="middle" dy="0.36em" font-family="Liberation Sans" font-size="8.2" fill="#222" stroke="#222" stroke-width="0.22">AB</text><path d="M209.1 1597.5L209.1 1647.6" stroke-width="0.75"/><path d="M169.8 1601L209.1 1601" stroke-width="0.75"/><path d="M169.8 1601L177.3 1599.6L177.3 1602.4z" fill="#303030" stroke="none"/><path d="M209.1 1601L201.6 1602.4L201.6 1599.6z" fill="#303030" stroke="none"/><text transform="translate(189.6,1596) scale(1.16,1)" text-anchor="middle" dy="0.36em" font-family="Liberation Sans" font-size="8.2" fill="#222" stroke="#222" stroke-width="0.22">AD</text><path d="M169.8 1610.8L245.3 1610.8" stroke-width="0.75"/><path d="M203.6 1682L245.3 1682" stroke-width="0.75"/><path d="M240.8 1610.8L240.8 1682" stroke-width="0.75"/><path d="M240.8 1610.8L242.2 1618.3L239.4 1618.3z" fill="#303030" stroke="none"/><path d="M240.8 1682L239.4 1674.5L242.2 1674.5z" fill="#303030" stroke="none"/><text transform="translate(235.2,1650.6) rotate(-90) scale(1.16,1)" text-anchor="middle" dy="0.36em" font-family="Liberation Sans" font-size="8.2" fill="#222" stroke="#222" stroke-width="0.22">HD</text><path d="M225.6 1649.6L225.6 1682" stroke-width="0.75"/><path d="M225.6 1649.6L227 1657.1L224.2 1657.1z" fill="#303030" stroke="none"/><path d="M225.6 1682L224.2 1674.5L227 1674.5z" fill="#303030" stroke="none"/><text transform="translate(219.3,1664.8) rotate(-90) scale(1.16,1)" text-anchor="middle" dy="0.36em" font-family="Liberation Sans" font-size="8.2" fill="#222" stroke="#222" stroke-width="0.22">H</text><path d="M352.8 1622.2H425.5Q434.5 1622.2 434.5 1631.2V1670.9Q434.5 1679.9 425.5 1679.9H352.8Q344.8 1679.9 344.8 1670.9V1631.2Q344.8 1622.2 352.8 1622.2z" stroke-width="1.0" fill="#fff"/><path d="M356.7 1622.2L356.7 1679.9" stroke-width="0.8"/><path d="M346 1639.2h-3v19.4h3" stroke-width="0.8" fill="#fff"/><path d="M341.2 1645H320.5V1657H341.2" stroke-width="0.9" fill="#fff"/><path d="M320.5 1646.8h11.5v2.2" stroke-width="0.75"/><path d="M408.3 1622.2L408.3 1679.9" stroke-width="0.8"/><rect x="363" y="1640.7" width="26" height="19.6" rx="3" stroke-width="1.2" fill="#fff"/><rect x="365" y="1642.7" width="22" height="15.600000000000001" rx="2" stroke-width="0.6" fill="none"/><circle cx="382.2" cy="1616.2" r="2.9" stroke-width="0.8"/><circle cx="382.2" cy="1616.2" r="1.5" stroke-width="0.75"/><path d="M377.2 1622.2L379.6 1618.2M387.2 1622.2L384.8 1618.2" stroke-width="0.8"/><path d="M376.2 1615.8L388.2 1615.8" stroke-width="0.4"/><path d="M311 1651L444 1651" stroke-width="0.7" stroke-dasharray="7 1.5 1.5 1.5"/><path d="M382.2 1607.2L382.2 1686.9" stroke-width="0.7" stroke-dasharray="7 1.5 1.5 1.5"/><path d="M320.5 1590.7L320.5 1645" stroke-width="0.75"/><path d="M434.5 1590.7L434.5 1630.2" stroke-width="0.75"/><path d="M320.5 1593.2L434.5 1593.2" stroke-width="0.75"/><path d="M320.5 1593.2L328 1591.8L328 1594.6z" fill="#303030" stroke="none"/><path d="M434.5 1593.2L427 1594.6L427 1591.8z" fill="#303030" stroke="none"/><text transform="translate(378,1588) scale(1.16,1)" text-anchor="middle" dy="0.36em" font-family="Liberation Sans" font-size="8.2" fill="#222" stroke="#222" stroke-width="0.22">L</text><path d="M428.5 1622.2L462.8 1622.2" stroke-width="0.75"/><path d="M428.5 1681.1L462.8 1681.1" stroke-width="0.75"/><path d="M458.8 1622.2L458.8 1681.1" stroke-width="0.75"/><path d="M458.8 1622.2L460.2 1629.7L457.4 1629.7z" fill="#303030" stroke="none"/><path d="M458.8 1681.1L457.4 1673.6L460.2 1673.6z" fill="#303030" stroke="none"/><text transform="translate(452.6,1650.5) rotate(-90) scale(1.16,1)" text-anchor="middle" dy="0.36em" font-family="Liberation Sans" font-size="8.2" fill="#222" stroke="#222" stroke-width="0.22">AC</text><path d="M343 1605.3L343 1701" stroke-width="0.75"/><path d="M320.5 1610.3L343 1610.3" stroke-width="0.75"/><path d="M320.5 1610.3L328 1608.9L328 1611.7z" fill="#303030" stroke="none"/><path d="M343 1610.3L335.5 1611.7L335.5 1608.9z" fill="#303030" stroke="none"/><text transform="translate(331.8,1605) scale(1.16,1)" text-anchor="middle" dy="0.36em" font-family="Liberation Sans" font-size="8.2" fill="#222" stroke="#222" stroke-width="0.22">E</text><path d="M356.3 1678.1v3.3q0 1 1 1H403.2q1 0 1 -1v-3.3" stroke-width="0.9" fill="#fff"/><path d="M363.1 1675.4L363.1 1682.4" stroke-width="0.7"/><path d="M365.4 1675.4L365.4 1682.4" stroke-width="0.7"/><path d="M394.1 1675.4L394.1 1682.4" stroke-width="0.7"/><path d="M396.7 1675.4L396.7 1682.4" stroke-width="0.7"/><path d="M365.4 1682.9L365.4 1701.4" stroke-width="0.75"/><path d="M395.3 1682.9L395.3 1701.4" stroke-width="0.75"/><path d="M343 1698.9L365.4 1698.9" stroke-width="0.75"/><path d="M343 1698.9L350.5 1697.5L350.5 1700.3z" fill="#303030" stroke="none"/><path d="M365.4 1698.9L357.9 1700.3L357.9 1697.5z" fill="#303030" stroke="none"/><path d="M365.4 1698.9L395.3 1698.9" stroke-width="0.75"/><path d="M365.4 1698.9L372.9 1697.5L372.9 1700.3z" fill="#303030" stroke="none"/><path d="M395.3 1698.9L387.8 1700.3L387.8 1697.5z" fill="#303030" stroke="none"/><text transform="translate(354.9,1692.1) scale(1.16,1)" text-anchor="middle" dy="0.36em" font-family="Liberation Sans" font-size="8.2" fill="#222" stroke="#222" stroke-width="0.22">C</text><text transform="translate(379.6,1692.1) scale(1.16,1)" text-anchor="middle" dy="0.36em" font-family="Liberation Sans" font-size="8.2" fill="#222" stroke="#222" stroke-width="0.22">B</text><clipPath id="c1694"><circle cx="506.7" cy="1694.3" r="16.6"/></clipPath><path d="M462.6 1677.7L495.8 1710.9M468.1 1677.7L501.3 1710.9M473.6 1677.7L506.8 1710.9M479.1 1677.7L512.3 1710.9M484.6 1677.7L517.8 1710.9M490.1 1677.7L523.3 1710.9M495.6 1677.7L528.8 1710.9M501.1 1677.7L534.3 1710.9M506.6 1677.7L539.8 1710.9M512.1 1677.7L545.3 1710.9M517.6 1677.7L550.8 1710.9" stroke-width="0.7" clip-path="url(#c1694)"/><circle cx="506.7" cy="1694.3" r="16.6" stroke-width="1.1"/><path d="M501.9 1683.9V1673.7H511.3V1683.9" stroke-width="0.9" fill="#fff"/><path d="M501.9 1681.3L511.3 1681.3" stroke-width="0.75"/><path d="M501.9 1661.2L501.9 1673.7" stroke-width="0.75"/><path d="M511.3 1661.2L511.3 1673.7" stroke-width="0.75"/><path d="M489.4 1670.7L501.9 1670.7" stroke-width="0.75"/><path d="M511.3 1670.7L523.8 1670.7" stroke-width="0.75"/><path d="M501.9 1670.7L494.4 1672.1L494.4 1669.3z" fill="#303030" stroke="none"/><path d="M511.3 1670.7L518.8 1669.3L518.8 1672.1z" fill="#303030" stroke="none"/><text transform="translate(506.7,1662.7) scale(1.16,1)" text-anchor="middle" dy="0.36em" font-family="Liberation Sans" font-size="8.2" fill="#222" stroke="#222" stroke-width="0.22">F</text><path d="M473.8 1681.3L501.9 1681.3" stroke-width="0.75"/><path d="M473.8 1710.9L508.7 1710.9" stroke-width="0.75"/><path d="M478.8 1681.3L478.8 1710.9" stroke-width="0.75"/><path d="M478.8 1681.3L480.2 1688.8L477.4 1688.8z" fill="#303030" stroke="none"/><path d="M478.8 1710.9L477.4 1703.4L480.2 1703.4z" fill="#303030" stroke="none"/><text transform="translate(472.8,1694.8) rotate(-90) scale(1.16,1)" text-anchor="middle" dy="0.36em" font-family="Liberation Sans" font-size="8.2" fill="#222" stroke="#222" stroke-width="0.22">G</text><path d="M490.1 1694.3L490.1 1726.6" stroke-width="0.75"/><path d="M523.3 1694.3L523.3 1726.6" stroke-width="0.75"/><path d="M490.1 1724.1L523.3 1724.1" stroke-width="0.75"/><path d="M490.1 1724.1L497.6 1722.7L497.6 1725.5z" fill="#303030" stroke="none"/><path d="M523.3 1724.1L515.8 1725.5L515.8 1722.7z" fill="#303030" stroke="none"/><text transform="translate(507.7,1719.7) scale(1.16,1)" text-anchor="middle" dy="0.36em" font-family="Liberation Sans" font-size="8.2" fill="#222" stroke="#222" stroke-width="0.22">D</text><path d="M485.7 1694.3L527.2 1694.3" stroke-width="0.5" stroke-dasharray="4 1.5 1 1.5"/><path d="M506.7 1672.3L506.7 1710.8" stroke-width="0.5" stroke-dasharray="4 1.5 1 1.5"/><circle cx="169.8" cy="1786.7" r="28.6" stroke-width="1.1"/><circle cx="169.8" cy="1786.7" r="25.1" stroke-width="0.9"/><circle cx="169.8" cy="1786.7" r="14.6" stroke-width="0.9"/><circle cx="169.8" cy="1786.7" r="6.2" stroke-width="3.2" stroke="#4a4a4a"/><circle cx="169.8" cy="1786.7" r="6.2" stroke-width="2.0" stroke="#777" stroke-dasharray="1 1"/><circle cx="169.8" cy="1786.7" r="3.2" stroke-width="0.9" fill="#fff"/><path d="M167.8 1788.7L171.8 1784.7" stroke-width="0.5"/><path d="M167.8 1758.7V1750.8Q169.8 1748.3 172 1750.8V1758.7" stroke-width="0.9" fill="#fff"/><path d="M165.5 1761.7v-4.2h8.4v4.2" stroke-width="0.9" fill="#fff"/><path d="M194.2 1771.6L206.4 1772.3L208.6 1797.8L205.7 1799.2L195.7 1799.2" stroke-width="0.9"/><path d="M194.2 1771.6L208.6 1797.8" stroke-width="0.9"/><path d="M196.7 1775.5L205.7 1799.2" stroke-width="0.8"/><path d="M198.05 1779.06L200.65 1778.46" stroke-width="0.5"/><path d="M199.4 1782.61L202 1782.01" stroke-width="0.5"/><path d="M200.75 1786.16L203.35 1785.57" stroke-width="0.5"/><path d="M202.1 1789.72L204.7 1789.12" stroke-width="0.5"/><path d="M203.45 1793.28L206.05 1792.68" stroke-width="0.5"/><path d="M204.8 1796.83L207.4 1796.23" stroke-width="0.5"/><path d="M129.8 1786.7L226.8 1786.7" stroke-width="0.7" stroke-dasharray="7 1.5 1.5 1.5"/><path d="M169.8 1735.7L169.8 1822.7" stroke-width="0.7" stroke-dasharray="7 1.5 1.5 1.5"/><path d="M209.1 1734.6L209.1 1784.7" stroke-width="0.75"/><path d="M169.8 1738.1L209.1 1738.1" stroke-width="0.75"/><path d="M169.8 1738.1L177.3 1736.7L177.3 1739.5z" fill="#303030" stroke="none"/><path d="M209.1 1738.1L201.6 1739.5L201.6 1736.7z" fill="#303030" stroke="none"/><text transform="translate(189.6,1733.1) scale(1.16,1)" text-anchor="middle" dy="0.36em" font-family="Liberation Sans" font-size="8.2" fill="#222" stroke="#222" stroke-width="0.22">AD</text><path d="M169.8 1747.9L245.3 1747.9" stroke-width="0.75"/><path d="M169.8 1815.3L245.3 1815.3" stroke-width="0.75"/><path d="M240.8 1747.9L240.8 1815.3" stroke-width="0.75"/><path d="M240.8 1747.9L242.2 1755.4L239.4 1755.4z" fill="#303030" stroke="none"/><path d="M240.8 1815.3L239.4 1807.8L242.2 1807.8z" fill="#303030" stroke="none"/><text transform="translate(235.2,1787.7) rotate(-90) scale(1.16,1)" text-anchor="middle" dy="0.36em" font-family="Liberation Sans" font-size="8.2" fill="#222" stroke="#222" stroke-width="0.22">HF</text><path d="M225.6 1786.7L225.6 1815.3" stroke-width="0.75"/><path d="M225.6 1786.7L227 1794.2L224.2 1794.2z" fill="#303030" stroke="none"/><path d="M225.6 1815.3L224.2 1807.8L227 1807.8z" fill="#303030" stroke="none"/><text transform="translate(219.3,1800) rotate(-90) scale(1.16,1)" text-anchor="middle" dy="0.36em" font-family="Liberation Sans" font-size="8.2" fill="#222" stroke="#222" stroke-width="0.22">H</text><circle cx="169.8" cy="1786.7" r="19.2" stroke-width="0.5" stroke-dasharray="4 1.5 1 1.5"/><circle cx="156.1" cy="1773.5" r="2.1" stroke-width="0.8" fill="#fff"/><circle cx="156.1" cy="1773.5" r="0.9" stroke-width="0.5"/><circle cx="156.1" cy="1799.9" r="2.1" stroke-width="0.8" fill="#fff"/><circle cx="156.1" cy="1799.9" r="0.9" stroke-width="0.5"/><circle cx="183.5" cy="1773.5" r="2.1" stroke-width="0.8" fill="#fff"/><circle cx="183.5" cy="1773.5" r="0.9" stroke-width="0.5"/><circle cx="183.5" cy="1799.9" r="2.1" stroke-width="0.8" fill="#fff"/><circle cx="183.5" cy="1799.9" r="0.9" stroke-width="0.5"/><path d="M154.7 1774.9L134.6 1754.8" stroke-width="0.75"/><path d="M157.5 1772.1L138.6 1753.2" stroke-width="0.75"/><path d="M128.91 1767.69L138.1 1758.5" stroke-width="0.75"/><path d="M138.1 1758.5L133.79 1764.79L131.81 1762.81z" fill="#303030" stroke="none"/><path d="M141.1 1755.5L150.29 1746.31" stroke-width="0.75"/><path d="M141.1 1755.5L145.41 1749.21L147.39 1751.19z" fill="#303030" stroke="none"/><text transform="translate(149.4,1744.1) rotate(-45) scale(1.16,1)" text-anchor="middle" dy="0.36em" font-family="Liberation Sans" font-size="8.2" fill="#222" stroke="#222" stroke-width="0.22">S</text><path d="M128.8 1802.5L184.9 1780.2" stroke-width="0.8"/><path d="M184.9 1780.2L177.02 1784.73L176.06 1782.32z" fill="#303030" stroke="none"/><text transform="translate(131.6,1797.5) rotate(-21) scale(1.16,1)" text-anchor="middle" dy="0.36em" font-family="Liberation Sans" font-size="8.2" fill="#222" stroke="#222" stroke-width="0.22">M</text><path d="M356.2 1757.9H427.2Q436.2 1757.9 436.2 1766.9V1807.9Q436.2 1816.9 427.2 1816.9H356.2z" stroke-width="1.0" fill="#fff"/><path d="M349.6 1755.3H356.2V1820.6H349.6z" stroke-width="0.9" fill="#fff"/><path d="M349.6 1755.3L347.6 1758.3V1817.6L349.6 1820.6" stroke-width="0.8"/><path d="M352.1 1755.3L352.1 1820.6" stroke-width="0.5"/><path d="M347.6 1761.8H345V1813.5H347.6" stroke-width="0.7"/><path d="M347.1 1774.1L351.6 1786.1L351.6 1790.1" stroke-width="0.75"/><path d="M345 1780.9H324V1795.3H345" stroke-width="0.9" fill="#fff"/><path d="M324 1783.1h12.5v2.2h-3" stroke-width="0.75"/><path d="M408 1757.9L408 1816.9" stroke-width="0.8"/><rect x="363.4" y="1777.8" width="26" height="19.6" rx="3" stroke-width="1.2" fill="#fff"/><rect x="365.4" y="1779.8" width="22" height="15.600000000000001" rx="2" stroke-width="0.6" fill="none"/><circle cx="382.6" cy="1751.9" r="2.9" stroke-width="0.8"/><circle cx="382.6" cy="1751.9" r="1.5" stroke-width="0.75"/><path d="M377.6 1757.9L380 1753.9M387.6 1757.9L385.2 1753.9" stroke-width="0.8"/><path d="M376.6 1751.5L388.6 1751.5" stroke-width="0.4"/><path d="M314.5 1788.1L445.7 1788.1" stroke-width="0.7" stroke-dasharray="7 1.5 1.5 1.5"/><path d="M382.6 1742.9L382.6 1828.9" stroke-width="0.7" stroke-dasharray="7 1.5 1.5 1.5"/><path d="M324 1729.8L324 1782.1" stroke-width="0.75"/><path d="M436.2 1729.8L436.2 1765.9" stroke-width="0.75"/><path d="M324 1732.3L436.2 1732.3" stroke-width="0.75"/><path d="M324 1732.3L331.5 1730.9L331.5 1733.7z" fill="#303030" stroke="none"/><path d="M436.2 1732.3L428.7 1733.7L428.7 1730.9z" fill="#303030" stroke="none"/><text transform="translate(381.5,1727.1) scale(1.16,1)" text-anchor="middle" dy="0.36em" font-family="Liberation Sans" font-size="8.2" fill="#222" stroke="#222" stroke-width="0.22">L</text><path d="M430.2 1757.9L464.5 1757.9" stroke-width="0.75"/><path d="M430.2 1816.9L464.5 1816.9" stroke-width="0.75"/><path d="M460.5 1757.9L460.5 1816.9" stroke-width="0.75"/><path d="M460.5 1757.9L461.9 1765.4L459.1 1765.4z" fill="#303030" stroke="none"/><path d="M460.5 1816.9L459.1 1809.4L461.9 1809.4z" fill="#303030" stroke="none"/><text transform="translate(454.3,1787.6) rotate(-90) scale(1.16,1)" text-anchor="middle" dy="0.36em" font-family="Liberation Sans" font-size="8.2" fill="#222" stroke="#222" stroke-width="0.22">AC</text><path d="M324 1745.9L349 1745.9" stroke-width="0.75"/><path d="M324 1745.9L331.5 1744.5L331.5 1747.3z" fill="#303030" stroke="none"/><path d="M349 1745.9L341.5 1747.3L341.5 1744.5z" fill="#303030" stroke="none"/><text transform="translate(335.5,1739.9) scale(1.16,1)" text-anchor="middle" dy="0.36em" font-family="Liberation Sans" font-size="8.2" fill="#222" stroke="#222" stroke-width="0.22">E</text><path d="M349 1738.9L349 1755.3" stroke-width="0.75"/><path d="M351.2 1743.9L351.2 1755.3" stroke-width="0.75"/><path d="M336 1751.9L349 1751.9" stroke-width="0.75"/><path d="M349 1751.9L341.5 1753.3L341.5 1750.5z" fill="#303030" stroke="none"/><path d="M351.2 1751.9L370 1751.9" stroke-width="0.75"/><path d="M351.2 1751.9L358.7 1750.5L358.7 1753.3z" fill="#303030" stroke="none"/><text transform="translate(366,1746.9) scale(1.16,1)" text-anchor="middle" dy="0.36em" font-family="Liberation Sans" font-size="8.2" fill="#222" stroke="#222" stroke-width="0.22">R</text><path d="M281.5 1755.3L349.6 1755.3" stroke-width="0.75"/><path d="M281.5 1820.6L349.6 1820.6" stroke-width="0.75"/><path d="M285.8 1755.3L285.8 1820.6" stroke-width="0.75"/><path d="M285.8 1755.3L287.2 1762.8L284.4 1762.8z" fill="#303030" stroke="none"/><path d="M285.8 1820.6L284.4 1813.1L287.2 1813.1z" fill="#303030" stroke="none"/><text transform="translate(279.2,1788.6) rotate(-90) scale(1.16,1)" text-anchor="middle" dy="0.36em" font-family="Liberation Sans" font-size="8.2" fill="#222" stroke="#222" stroke-width="0.22">P</text><path d="M298.7 1761.8L345 1761.8" stroke-width="0.75"/><path d="M298.7 1813.5L345 1813.5" stroke-width="0.75"/><path d="M304.5 1761.8L304.5 1813.5" stroke-width="0.75"/><path d="M304.5 1761.8L305.9 1769.3L303.1 1769.3z" fill="#303030" stroke="none"/><path d="M304.5 1813.5L303.1 1806L305.9 1806z" fill="#303030" stroke="none"/><text transform="translate(297.9,1788.6) rotate(-90) scale(1.16,1)" text-anchor="middle" dy="0.36em" font-family="Liberation Sans" font-size="8.2" fill="#222" stroke="#222" stroke-width="0.22">N</text><path d="M349 1820.6L349 1833.8" stroke-width="0.75"/><path d="M351.2 1820.6L351.2 1833.8" stroke-width="0.75"/><path d="M331 1829.8L349 1829.8" stroke-width="0.75"/><path d="M349 1829.8L341.5 1831.2L341.5 1828.4z" fill="#303030" stroke="none"/><path d="M351.2 1829.8L370 1829.8" stroke-width="0.75"/><path d="M351.2 1829.8L358.7 1828.4L358.7 1831.2z" fill="#303030" stroke="none"/><text transform="translate(363.5,1824.5) scale(1.16,1)" text-anchor="middle" dy="0.36em" font-family="Liberation Sans" font-size="8.2" fill="#222" stroke="#222" stroke-width="0.22">T</text><clipPath id="c1821"><circle cx="506.7" cy="1821.2" r="16.6"/></clipPath><path d="M462.6 1804.6L495.8 1837.8M468.1 1804.6L501.3 1837.8M473.6 1804.6L506.8 1837.8M479.1 1804.6L512.3 1837.8M484.6 1804.6L517.8 1837.8M490.1 1804.6L523.3 1837.8M495.6 1804.6L528.8 1837.8M501.1 1804.6L534.3 1837.8M506.6 1804.6L539.8 1837.8M512.1 1804.6L545.3 1837.8M517.6 1804.6L550.8 1837.8" stroke-width="0.7" clip-path="url(#c1821)"/><circle cx="506.7" cy="1821.2" r="16.6" stroke-width="1.1"/><path d="M501.9 1810.8V1800.6H511.3V1810.8" stroke-width="0.9" fill="#fff"/><path d="M501.9 1808.2L511.3 1808.2" stroke-width="0.75"/><path d="M501.9 1788.1L501.9 1800.6" stroke-width="0.75"/><path d="M511.3 1788.1L511.3 1800.6" stroke-width="0.75"/><path d="M489.4 1797.6L501.9 1797.6" stroke-width="0.75"/><path d="M511.3 1797.6L523.8 1797.6" stroke-width="0.75"/><path d="M501.9 1797.6L494.4 1799L494.4 1796.2z" fill="#303030" stroke="none"/><path d="M511.3 1797.6L518.8 1796.2L518.8 1799z" fill="#303030" stroke="none"/><text transform="translate(506.7,1789.6) scale(1.16,1)" text-anchor="middle" dy="0.36em" font-family="Liberation Sans" font-size="8.2" fill="#222" stroke="#222" stroke-width="0.22">F</text><path d="M473.8 1808.2L501.9 1808.2" stroke-width="0.75"/><path d="M473.8 1837.8L508.7 1837.8" stroke-width="0.75"/><path d="M478.8 1808.2L478.8 1837.8" stroke-width="0.75"/><path d="M478.8 1808.2L480.2 1815.7L477.4 1815.7z" fill="#303030" stroke="none"/><path d="M478.8 1837.8L477.4 1830.3L480.2 1830.3z" fill="#303030" stroke="none"/><text transform="translate(472.8,1821.7) rotate(-90) scale(1.16,1)" text-anchor="middle" dy="0.36em" font-family="Liberation Sans" font-size="8.2" fill="#222" stroke="#222" stroke-width="0.22">G</text><path d="M490.1 1821.2L490.1 1853.5" stroke-width="0.75"/><path d="M523.3 1821.2L523.3 1853.5" stroke-width="0.75"/><path d="M490.1 1851L523.3 1851" stroke-width="0.75"/><path d="M490.1 1851L497.6 1849.6L497.6 1852.4z" fill="#303030" stroke="none"/><path d="M523.3 1851L515.8 1852.4L515.8 1849.6z" fill="#303030" stroke="none"/><text transform="translate(507.7,1846.6) scale(1.16,1)" text-anchor="middle" dy="0.36em" font-family="Liberation Sans" font-size="8.2" fill="#222" stroke="#222" stroke-width="0.22">D</text><path d="M485.7 1821.2L527.2 1821.2" stroke-width="0.5" stroke-dasharray="4 1.5 1 1.5"/><path d="M506.7 1799.2L506.7 1837.7" stroke-width="0.5" stroke-dasharray="4 1.5 1 1.5"/><circle cx="169.8" cy="1906.6" r="28.6" stroke-width="1.1"/><circle cx="169.8" cy="1906.6" r="25.1" stroke-width="0.9"/><circle cx="169.8" cy="1906.6" r="14.6" stroke-width="0.9"/><circle cx="169.8" cy="1906.6" r="6.2" stroke-width="3.2" stroke="#4a4a4a"/><circle cx="169.8" cy="1906.6" r="6.2" stroke-width="2.0" stroke="#777" stroke-dasharray="1 1"/><circle cx="169.8" cy="1906.6" r="3.2" stroke-width="0.9" fill="#fff"/><path d="M167.8 1908.6L171.8 1904.6" stroke-width="0.5"/><path d="M167.8 1878.6V1870.7Q169.8 1868.2 172 1870.7V1878.6" stroke-width="0.9" fill="#fff"/><path d="M165.5 1881.6v-4.2h8.4v4.2" stroke-width="0.9" fill="#fff"/><path d="M194.2 1891.5L206.4 1892.2L208.6 1917.7L205.7 1919.1L195.7 1919.1" stroke-width="0.9"/><path d="M194.2 1891.5L208.6 1917.7" stroke-width="0.9"/><path d="M196.7 1895.4L205.7 1919.1" stroke-width="0.8"/><path d="M198.05 1898.95L200.65 1898.36" stroke-width="0.5"/><path d="M199.4 1902.51L202 1901.91" stroke-width="0.5"/><path d="M200.75 1906.06L203.35 1905.46" stroke-width="0.5"/><path d="M202.1 1909.62L204.7 1909.02" stroke-width="0.5"/><path d="M203.45 1913.17L206.05 1912.58" stroke-width="0.5"/><path d="M204.8 1916.73L207.4 1916.13" stroke-width="0.5"/><path d="M129.8 1906.6L226.8 1906.6" stroke-width="0.7" stroke-dasharray="7 1.5 1.5 1.5"/><path d="M169.8 1855.6L169.8 1942.6" stroke-width="0.7" stroke-dasharray="7 1.5 1.5 1.5"/><path d="M145.4 1922.7L135.5 1934.7V1939H151.1V1934.7L154.2 1930.6" stroke-width="0.9" fill="#fff"/><path d="M135.5 1934.7L151.1 1934.7" stroke-width="0.8"/><path d="M149 1926.4L142.5 1934.7" stroke-width="0.7"/><path d="M142.5 1934.7L142.5 1939" stroke-width="0.6"/><path d="M139.4 1934.7L139.4 1939" stroke-width="0.6"/><path d="M137 1934.7L137 1939" stroke-width="0.6"/><path d="M194.2 1922.7L204.1 1934.7V1939H188.5V1934.7L185.4 1930.6" stroke-width="0.9" fill="#fff"/><path d="M204.1 1934.7L188.5 1934.7" stroke-width="0.8"/><path d="M190.6 1926.4L197.1 1934.7" stroke-width="0.7"/><path d="M197.1 1934.7L197.1 1939" stroke-width="0.6"/><path d="M200.2 1934.7L200.2 1939" stroke-width="0.6"/><path d="M202.6 1934.7L202.6 1939" stroke-width="0.6"/><path d="M197.6 1939L197.6 1955" stroke-width="0.75"/><path d="M202 1939L202 1955" stroke-width="0.75"/><path d="M178.6 1952L197.6 1952" stroke-width="0.75"/><path d="M202 1952L221 1952" stroke-width="0.75"/><path d="M197.6 1952L190.1 1953.4L190.1 1950.6z" fill="#303030" stroke="none"/><path d="M202 1952L209.5 1950.6L209.5 1953.4z" fill="#303030" stroke="none"/><text transform="translate(216.4,1947.7) scale(1.16,1)" text-anchor="middle" dy="0.36em" font-family="Liberation Sans" font-size="8.2" fill="#222" stroke="#222" stroke-width="0.22">K</text><path d="M139.6 1939L139.6 1964" stroke-width="0.75"/><path d="M199.8 1939L199.8 1964" stroke-width="0.75"/><path d="M139.6 1961.5L199.8 1961.5" stroke-width="0.75"/><path d="M139.6 1961.5L147.1 1960.1L147.1 1962.9z" fill="#303030" stroke="none"/><path d="M199.8 1961.5L192.3 1962.9L192.3 1960.1z" fill="#303030" stroke="none"/><text transform="translate(169.8,1957.2) scale(1.16,1)" text-anchor="middle" dy="0.36em" font-family="Liberation Sans" font-size="8.2" fill="#222" stroke="#222" stroke-width="0.22">A</text><path d="M135.2 1939L135.2 1977" stroke-width="0.75"/><path d="M203.6 1939L203.6 1977" stroke-width="0.75"/><path d="M135.2 1974L203.6 1974" stroke-width="0.75"/><path d="M135.2 1974L142.7 1972.6L142.7 1975.4z" fill="#303030" stroke="none"/><path d="M203.6 1974L196.1 1975.4L196.1 1972.6z" fill="#303030" stroke="none"/><text transform="translate(169.8,1968.6) scale(1.16,1)" text-anchor="middle" dy="0.36em" font-family="Liberation Sans" font-size="8.2" fill="#222" stroke="#222" stroke-width="0.22">AB</text><path d="M209.1 1854.5L209.1 1904.6" stroke-width="0.75"/><path d="M169.8 1858L209.1 1858" stroke-width="0.75"/><path d="M169.8 1858L177.3 1856.6L177.3 1859.4z" fill="#303030" stroke="none"/><path d="M209.1 1858L201.6 1859.4L201.6 1856.6z" fill="#303030" stroke="none"/><text transform="translate(189.6,1853) scale(1.16,1)" text-anchor="middle" dy="0.36em" font-family="Liberation Sans" font-size="8.2" fill="#222" stroke="#222" stroke-width="0.22">AD</text><path d="M169.8 1867.8L245.3 1867.8" stroke-width="0.75"/><path d="M203.6 1939L245.3 1939" stroke-width="0.75"/><path d="M240.8 1867.8L240.8 1939" stroke-width="0.75"/><path d="M240.8 1867.8L242.2 1875.3L239.4 1875.3z" fill="#303030" stroke="none"/><path d="M240.8 1939L239.4 1931.5L242.2 1931.5z" fill="#303030" stroke="none"/><text transform="translate(235.2,1907.6) rotate(-90) scale(1.16,1)" text-anchor="middle" dy="0.36em" font-family="Liberation Sans" font-size="8.2" fill="#222" stroke="#222" stroke-width="0.22">HD</text><path d="M225.6 1906.6L225.6 1939" stroke-width="0.75"/><path d="M225.6 1906.6L227 1914.1L224.2 1914.1z" fill="#303030" stroke="none"/><path d="M225.6 1939L224.2 1931.5L227 1931.5z" fill="#303030" stroke="none"/><text transform="translate(219.3,1921.8) rotate(-90) scale(1.16,1)" text-anchor="middle" dy="0.36em" font-family="Liberation Sans" font-size="8.2" fill="#222" stroke="#222" stroke-width="0.22">H</text><circle cx="169.8" cy="1906.6" r="19.2" stroke-width="0.5" stroke-dasharray="4 1.5 1 1.5"/><circle cx="156.1" cy="1893.4" r="2.1" stroke-width="0.8" fill="#fff"/><circle cx="156.1" cy="1893.4" r="0.9" stroke-width="0.5"/><circle cx="156.1" cy="1919.8" r="2.1" stroke-width="0.8" fill="#fff"/><circle cx="156.1" cy="1919.8" r="0.9" stroke-width="0.5"/><circle cx="183.5" cy="1893.4" r="2.1" stroke-width="0.8" fill="#fff"/><circle cx="183.5" cy="1893.4" r="0.9" stroke-width="0.5"/><circle cx="183.5" cy="1919.8" r="2.1" stroke-width="0.8" fill="#fff"/><circle cx="183.5" cy="1919.8" r="0.9" stroke-width="0.5"/><path d="M154.7 1894.8L134.6 1874.7" stroke-width="0.75"/><path d="M157.5 1892L138.6 1873.1" stroke-width="0.75"/><path d="M128.91 1887.59L138.1 1878.4" stroke-width="0.75"/><path d="M138.1 1878.4L133.79 1884.69L131.81 1882.71z" fill="#303030" stroke="none"/><path d="M141.1 1875.4L150.29 1866.21" stroke-width="0.75"/><path d="M141.1 1875.4L145.41 1869.11L147.39 1871.09z" fill="#303030" stroke="none"/><text transform="translate(149.4,1864) rotate(-45) scale(1.16,1)" text-anchor="middle" dy="0.36em" font-family="Liberation Sans" font-size="8.2" fill="#222" stroke="#222" stroke-width="0.22">S</text><path d="M128.8 1922.4L184.9 1900.1" stroke-width="0.8"/><path d="M184.9 1900.1L177.02 1904.63L176.06 1902.22z" fill="#303030" stroke="none"/><text transform="translate(131.6,1917.4) rotate(-21) scale(1.16,1)" text-anchor="middle" dy="0.36em" font-family="Liberation Sans" font-size="8.2" fill="#222" stroke="#222" stroke-width="0.22">M</text><path d="M356.2 1878H427.2Q436.2 1878 436.2 1887V1928Q436.2 1937 427.2 1937H356.2z" stroke-width="1.0" fill="#fff"/><path d="M349.6 1875.4H356.2V1940.7H349.6z" stroke-width="0.9" fill="#fff"/><path d="M349.6 1875.4L347.6 1878.4V1937.7L349.6 1940.7" stroke-width="0.8"/><path d="M352.1 1875.4L352.1 1940.7" stroke-width="0.5"/><path d="M347.6 1881.9H345V1933.6H347.6" stroke-width="0.7"/><path d="M347.1 1894.2L351.6 1906.2L351.6 1910.2" stroke-width="0.75"/><path d="M345 1901H324V1915.4H345" stroke-width="0.9" fill="#fff"/><path d="M324 1903.2h12.5v2.2h-3" stroke-width="0.75"/><path d="M408 1878L408 1937" stroke-width="0.8"/><rect x="363.4" y="1897.9" width="26" height="19.6" rx="3" stroke-width="1.2" fill="#fff"/><rect x="365.4" y="1899.9" width="22" height="15.600000000000001" rx="2" stroke-width="0.6" fill="none"/><circle cx="382.6" cy="1872" r="2.9" stroke-width="0.8"/><circle cx="382.6" cy="1872" r="1.5" stroke-width="0.75"/><path d="M377.6 1878L380 1874M387.6 1878L385.2 1874" stroke-width="0.8"/><path d="M376.6 1871.6L388.6 1871.6" stroke-width="0.4"/><path d="M314.5 1908.2L445.7 1908.2" stroke-width="0.7" stroke-dasharray="7 1.5 1.5 1.5"/><path d="M382.6 1863L382.6 1949" stroke-width="0.7" stroke-dasharray="7 1.5 1.5 1.5"/><path d="M324 1849.9L324 1902.2" stroke-width="0.75"/><path d="M436.2 1849.9L436.2 1886" stroke-width="0.75"/><path d="M324 1852.4L436.2 1852.4" stroke-width="0.75"/><path d="M324 1852.4L331.5 1851L331.5 1853.8z" fill="#303030" stroke="none"/><path d="M436.2 1852.4L428.7 1853.8L428.7 1851z" fill="#303030" stroke="none"/><text transform="translate(381.5,1847.2) scale(1.16,1)" text-anchor="middle" dy="0.36em" font-family="Liberation Sans" font-size="8.2" fill="#222" stroke="#222" stroke-width="0.22">L</text><path d="M430.2 1878L464.5 1878" stroke-width="0.75"/><path d="M430.2 1937L464.5 1937" stroke-width="0.75"/><path d="M460.5 1878L460.5 1937" stroke-width="0.75"/><path d="M460.5 1878L461.9 1885.5L459.1 1885.5z" fill="#303030" stroke="none"/><path d="M460.5 1937L459.1 1929.5L461.9 1929.5z" fill="#303030" stroke="none"/><text transform="translate(454.3,1907.7) rotate(-90) scale(1.16,1)" text-anchor="middle" dy="0.36em" font-family="Liberation Sans" font-size="8.2" fill="#222" stroke="#222" stroke-width="0.22">AC</text><path d="M324 1866L349 1866" stroke-width="0.75"/><path d="M324 1866L331.5 1864.6L331.5 1867.4z" fill="#303030" stroke="none"/><path d="M349 1866L341.5 1867.4L341.5 1864.6z" fill="#303030" stroke="none"/><text transform="translate(335.5,1860) scale(1.16,1)" text-anchor="middle" dy="0.36em" font-family="Liberation Sans" font-size="8.2" fill="#222" stroke="#222" stroke-width="0.22">E</text><path d="M349 1859L349 1875.4" stroke-width="0.75"/><path d="M351.2 1864L351.2 1875.4" stroke-width="0.75"/><path d="M336 1872L349 1872" stroke-width="0.75"/><path d="M349 1872L341.5 1873.4L341.5 1870.6z" fill="#303030" stroke="none"/><path d="M351.2 1872L370 1872" stroke-width="0.75"/><path d="M351.2 1872L358.7 1870.6L358.7 1873.4z" fill="#303030" stroke="none"/><text transform="translate(366,1867) scale(1.16,1)" text-anchor="middle" dy="0.36em" font-family="Liberation Sans" font-size="8.2" fill="#222" stroke="#222" stroke-width="0.22">R</text><path d="M281.5 1875.4L349.6 1875.4" stroke-width="0.75"/><path d="M281.5 1940.7L349.6 1940.7" stroke-width="0.75"/><path d="M285.8 1875.4L285.8 1940.7" stroke-width="0.75"/><path d="M285.8 1875.4L287.2 1882.9L284.4 1882.9z" fill="#303030" stroke="none"/><path d="M285.8 1940.7L284.4 1933.2L287.2 1933.2z" fill="#303030" stroke="none"/><text transform="translate(279.2,1908.7) rotate(-90) scale(1.16,1)" text-anchor="middle" dy="0.36em" font-family="Liberation Sans" font-size="8.2" fill="#222" stroke="#222" stroke-width="0.22">P</text><path d="M298.7 1881.9L345 1881.9" stroke-width="0.75"/><path d="M298.7 1933.6L345 1933.6" stroke-width="0.75"/><path d="M304.5 1881.9L304.5 1933.6" stroke-width="0.75"/><path d="M304.5 1881.9L305.9 1889.4L303.1 1889.4z" fill="#303030" stroke="none"/><path d="M304.5 1933.6L303.1 1926.1L305.9 1926.1z" fill="#303030" stroke="none"/><text transform="translate(297.9,1908.7) rotate(-90) scale(1.16,1)" text-anchor="middle" dy="0.36em" font-family="Liberation Sans" font-size="8.2" fill="#222" stroke="#222" stroke-width="0.22">N</text><path d="M356.5 1934.6H403.8q1.4 0 1.4 1.4v2.2q0 1.4 -1.4 1.4H356.5z" stroke-width="0.9" fill="#fff"/><path d="M364.4 1932.1L364.4 1939.6" stroke-width="0.7"/><path d="M366.6 1932.1L366.6 1939.6" stroke-width="0.7"/><path d="M393.3 1932.1L393.3 1939.6" stroke-width="0.7"/><path d="M395.5 1932.1L395.5 1939.6" stroke-width="0.7"/><path d="M349 1940.7L349 1958.7" stroke-width="0.75"/><path d="M351.2 1940.7L351.2 1958.7" stroke-width="0.75"/><path d="M365.1 1939.6L365.1 1958.7" stroke-width="0.75"/><path d="M395.3 1939.6L395.3 1958.7" stroke-width="0.75"/><path d="M351.2 1954.2L365.1 1954.2" stroke-width="0.75"/><path d="M351.2 1954.2L358.7 1952.8L358.7 1955.6z" fill="#303030" stroke="none"/><path d="M365.1 1954.2L357.6 1955.6L357.6 1952.8z" fill="#303030" stroke="none"/><path d="M365.1 1954.2L395.3 1954.2" stroke-width="0.75"/><path d="M365.1 1954.2L372.6 1952.8L372.6 1955.6z" fill="#303030" stroke="none"/><path d="M395.3 1954.2L387.8 1955.6L387.8 1952.8z" fill="#303030" stroke="none"/><text transform="translate(358.4,1947.6) scale(1.16,1)" text-anchor="middle" dy="0.36em" font-family="Liberation Sans" font-size="8.2" fill="#222" stroke="#222" stroke-width="0.22">C</text><text transform="translate(380.2,1947.6) scale(1.16,1)" text-anchor="middle" dy="0.36em" font-family="Liberation Sans" font-size="8.2" fill="#222" stroke="#222" stroke-width="0.22">B</text><path d="M331 1954.2L349 1954.2" stroke-width="0.75"/><path d="M349 1954.2L341.5 1955.6L341.5 1952.8z" fill="#303030" stroke="none"/><text transform="translate(335.5,1949.2) scale(1.16,1)" text-anchor="middle" dy="0.36em" font-family="Liberation Sans" font-size="8.2" fill="#222" stroke="#222" stroke-width="0.22">T</text><clipPath id="c1942"><circle cx="506.7" cy="1942.9" r="16.6"/></clipPath><path d="M462.6 1926.3L495.8 1959.5M468.1 1926.3L501.3 1959.5M473.6 1926.3L506.8 1959.5M479.1 1926.3L512.3 1959.5M484.6 1926.3L517.8 1959.5M490.1 1926.3L523.3 1959.5M495.6 1926.3L528.8 1959.5M501.1 1926.3L534.3 1959.5M506.6 1926.3L539.8 1959.5M512.1 1926.3L545.3 1959.5M517.6 1926.3L550.8 1959.5" stroke-width="0.7" clip-path="url(#c1942)"/><circle cx="506.7" cy="1942.9" r="16.6" stroke-width="1.1"/><path d="M501.9 1932.5V1922.3H511.3V1932.5" stroke-width="0.9" fill="#fff"/><path d="M501.9 1929.9L511.3 1929.9" stroke-width="0.75"/><path d="M501.9 1909.8L501.9 1922.3" stroke-width="0.75"/><path d="M511.3 1909.8L511.3 1922.3" stroke-width="0.75"/><path d="M489.4 1919.3L501.9 1919.3" stroke-width="0.75"/><path d="M511.3 1919.3L523.8 1919.3" stroke-width="0.75"/><path d="M501.9 1919.3L494.4 1920.7L494.4 1917.9z" fill="#303030" stroke="none"/><path d="M511.3 1919.3L518.8 1917.9L518.8 1920.7z" fill="#303030" stroke="none"/><text transform="translate(506.7,1911.3) scale(1.16,1)" text-anchor="middle" dy="0.36em" font-family="Liberation Sans" font-size="8.2" fill="#222" stroke="#222" stroke-width="0.22">F</text><path d="M473.8 1929.9L501.9 1929.9" stroke-width="0.75"/><path d="M473.8 1959.5L508.7 1959.5" stroke-width="0.75"/><path d="M478.8 1929.9L478.8 1959.5" stroke-width="0.75"/><path d="M478.8 1929.9L480.2 1937.4L477.4 1937.4z" fill="#303030" stroke="none"/><path d="M478.8 1959.5L477.4 1952L480.2 1952z" fill="#303030" stroke="none"/><text transform="translate(472.8,1943.4) rotate(-90) scale(1.16,1)" text-anchor="middle" dy="0.36em" font-family="Liberation Sans" font-size="8.2" fill="#222" stroke="#222" stroke-width="0.22">G</text><path d="M490.1 1942.9L490.1 1975.2" stroke-width="0.75"/><path d="M523.3 1942.9L523.3 1975.2" stroke-width="0.75"/><path d="M490.1 1972.7L523.3 1972.7" stroke-width="0.75"/><path d="M490.1 1972.7L497.6 1971.3L497.6 1974.1z" fill="#303030" stroke="none"/><path d="M523.3 1972.7L515.8 1974.1L515.8 1971.3z" fill="#303030" stroke="none"/><text transform="translate(507.7,1968.3) scale(1.16,1)" text-anchor="middle" dy="0.36em" font-family="Liberation Sans" font-size="8.2" fill="#222" stroke="#222" stroke-width="0.22">D</text><path d="M485.7 1942.9L527.2 1942.9" stroke-width="0.5" stroke-dasharray="4 1.5 1 1.5"/><path d="M506.7 1920.9L506.7 1959.4" stroke-width="0.5" stroke-dasharray="4 1.5 1 1.5"/></g>
<text transform="translate(67.3,1653.6) scale(1.17,1)" font-family="Liberation Sans" font-size="10.6" fill="#222" stroke="#222" stroke-width="0.3">IMB3</text>
<text transform="translate(67.3,1790.6) scale(1.17,1)" font-family="Liberation Sans" font-size="10.6" fill="#222" stroke="#222" stroke-width="0.3">IMB5</text>
<text transform="translate(67.3,1910.8) scale(1.17,1)" font-family="Liberation Sans" font-size="10.6" fill="#222" stroke="#222" stroke-width="0.3">IMB35</text></svg></div></body></html>
